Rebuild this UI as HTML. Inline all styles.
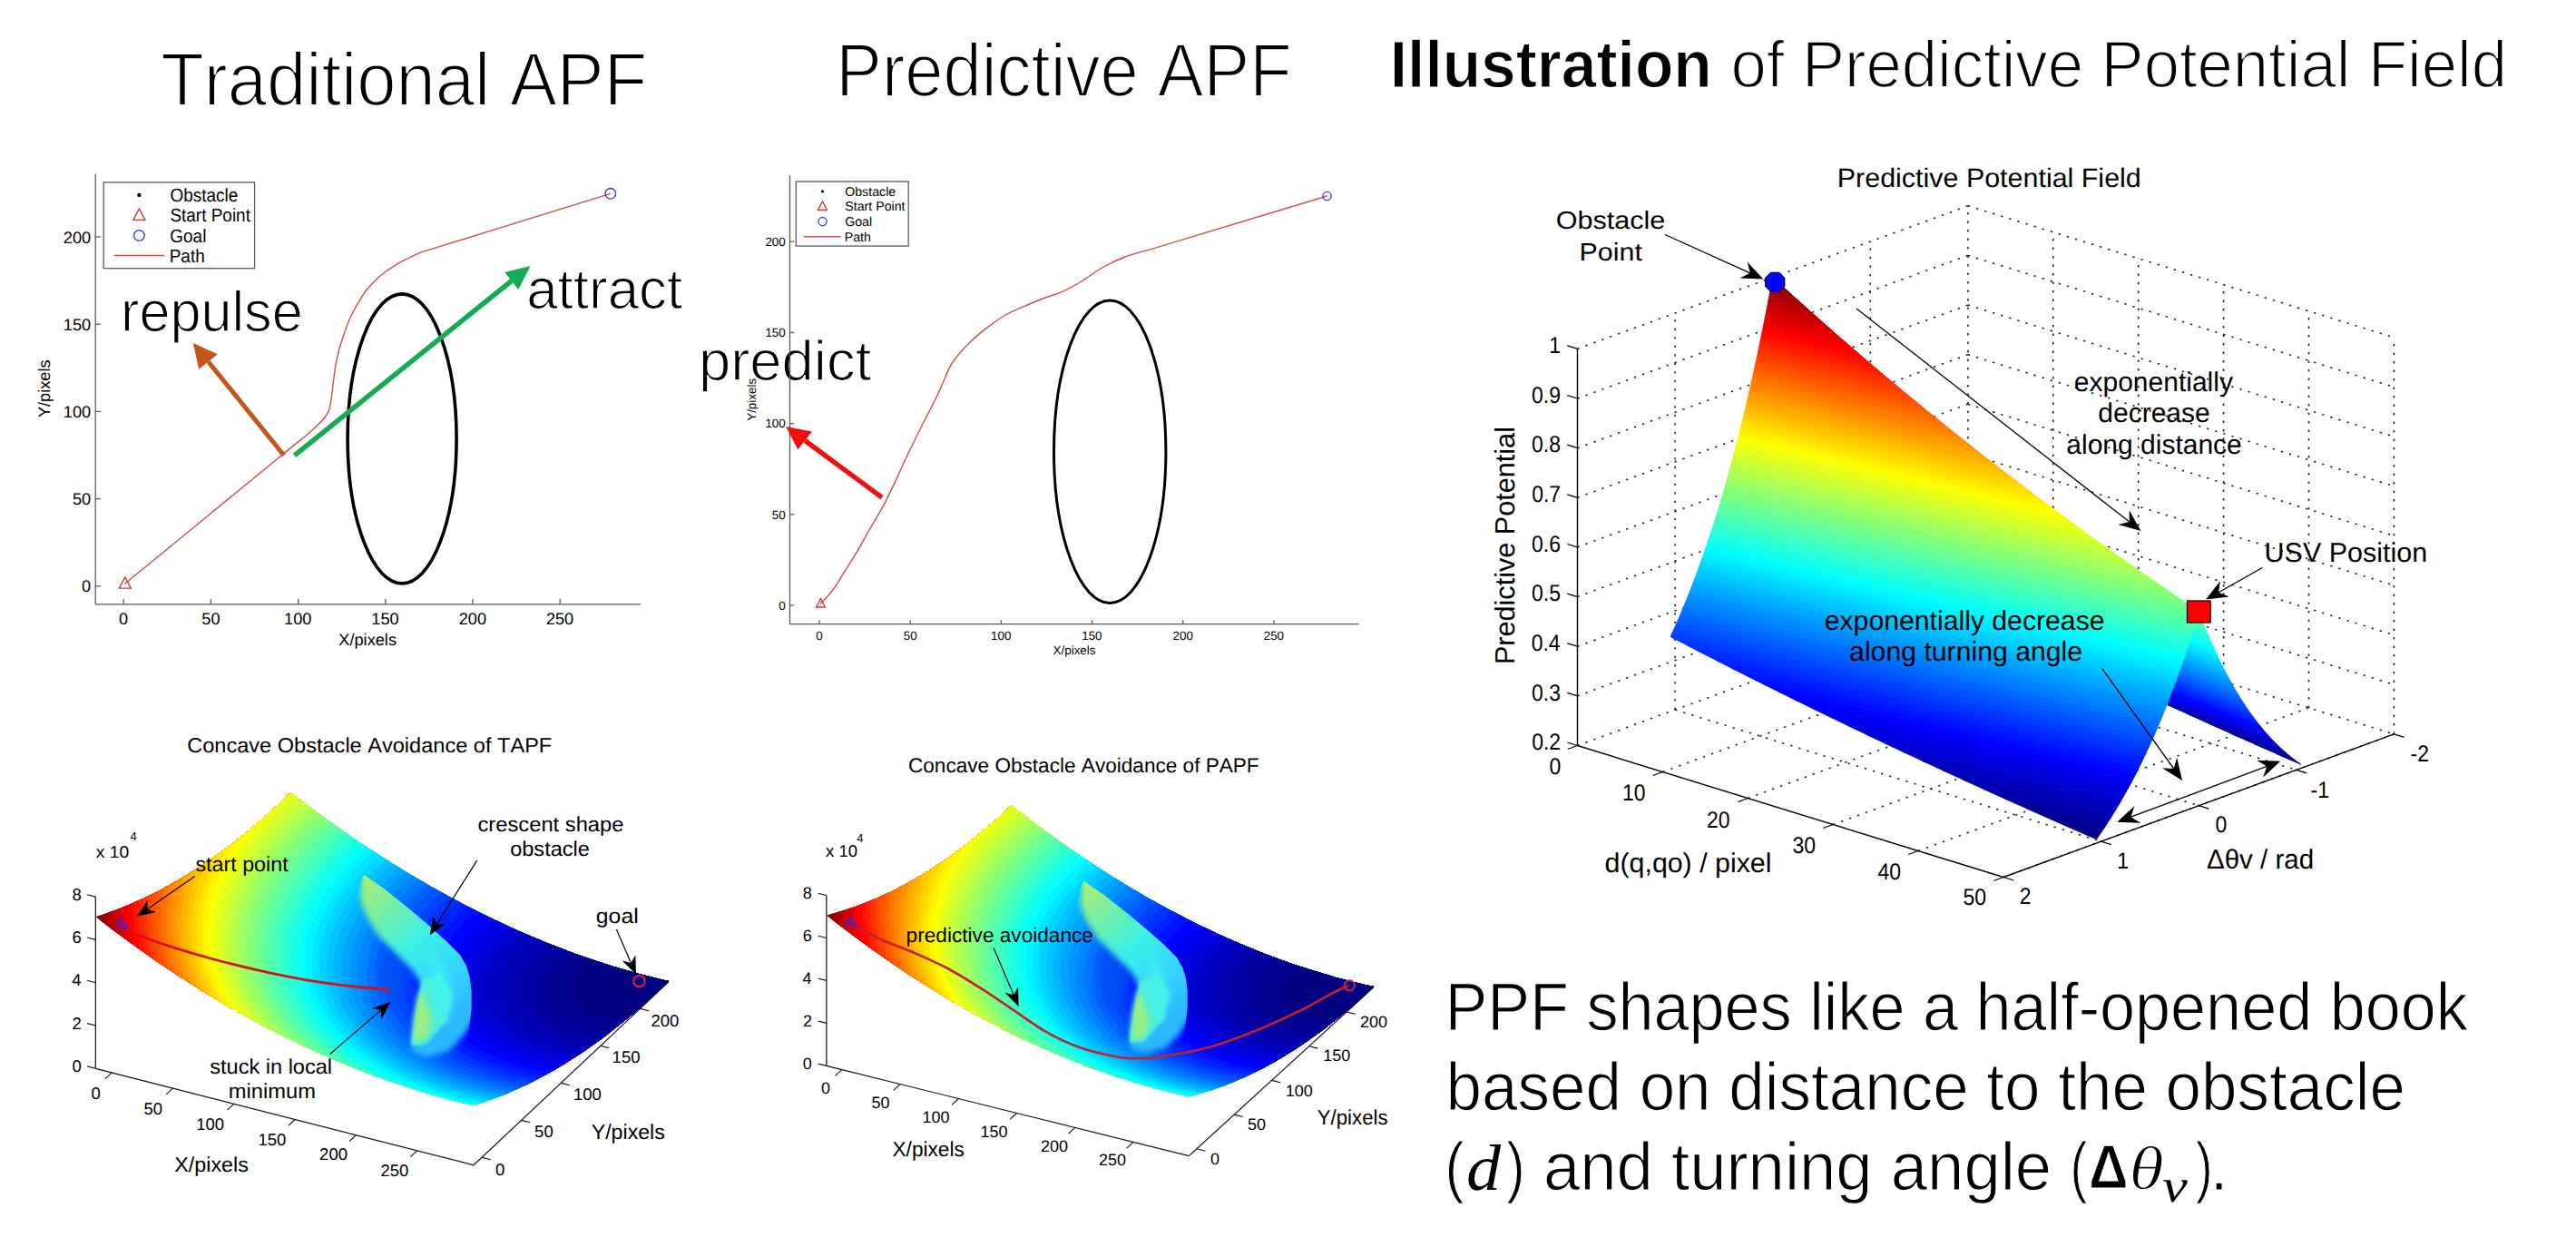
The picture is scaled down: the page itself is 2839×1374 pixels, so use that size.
<!DOCTYPE html><html><head><meta charset="utf-8"><style>html,body{margin:0;padding:0;background:#fff;overflow:hidden}svg{display:block}text{font-family:"Liberation Sans",sans-serif;text-rendering:geometricPrecision;font-kerning:none}</style></head><body>
<svg width="2839" height="1374" viewBox="0 0 2839 1374">
<rect width="2839" height="1374" fill="#fff"/>
<text transform="translate(177.3 116.2) scale(0.9391 1)" font-size="82.8" fill="#000" stroke="#fff" stroke-width="2">Traditional APF</text>
<text transform="translate(921.3 105.5) scale(0.9173 1)" font-size="82.8" fill="#000" stroke="#fff" stroke-width="2">Predictive APF</text>
<text transform="translate(1531.8 96.2) scale(0.9513 1)" font-size="73" font-weight="bold" fill="#000" stroke="#fff" stroke-width="1.2">Illustration</text>
<text transform="translate(1907.4 96.2) scale(0.9673 1)" font-size="73" fill="#000" stroke="#fff" stroke-width="1.8">of Predictive Potential Field</text>
<line x1="105.2" y1="191.5" x2="105.2" y2="665.8" stroke="#5a5a5a" stroke-width="1.3"/>
<line x1="105.2" y1="665.8" x2="706" y2="665.8" stroke="#5a5a5a" stroke-width="1.3"/>
<line x1="105.2" y1="645.8" x2="111.2" y2="645.8" stroke="#5a5a5a" stroke-width="1.3"/>
<text x="90.1" y="652.3" font-size="18.2" fill="#000">0</text>
<line x1="105.2" y1="549.6" x2="111.2" y2="549.6" stroke="#5a5a5a" stroke-width="1.3"/>
<text x="80" y="556.1" font-size="18.2" fill="#000">50</text>
<line x1="105.2" y1="453.4" x2="111.2" y2="453.4" stroke="#5a5a5a" stroke-width="1.3"/>
<text x="69.8" y="459.9" font-size="18.2" fill="#000">100</text>
<line x1="105.2" y1="357.2" x2="111.2" y2="357.2" stroke="#5a5a5a" stroke-width="1.3"/>
<text x="69.8" y="363.7" font-size="18.2" fill="#000">150</text>
<line x1="105.2" y1="261" x2="111.2" y2="261" stroke="#5a5a5a" stroke-width="1.3"/>
<text x="69.8" y="267.5" font-size="18.2" fill="#000">200</text>
<line x1="136.2" y1="665.8" x2="136.2" y2="659.8" stroke="#5a5a5a" stroke-width="1.3"/>
<text x="131.1" y="688.3" font-size="18.2" fill="#000">0</text>
<line x1="232.4" y1="665.8" x2="232.4" y2="659.8" stroke="#5a5a5a" stroke-width="1.3"/>
<text x="222.3" y="688.3" font-size="18.2" fill="#000">50</text>
<line x1="328.6" y1="665.8" x2="328.6" y2="659.8" stroke="#5a5a5a" stroke-width="1.3"/>
<text x="313.1" y="688.3" font-size="18.2" fill="#000">100</text>
<line x1="424.8" y1="665.8" x2="424.8" y2="659.8" stroke="#5a5a5a" stroke-width="1.3"/>
<text x="409.3" y="688.3" font-size="18.2" fill="#000">150</text>
<line x1="521" y1="665.8" x2="521" y2="659.8" stroke="#5a5a5a" stroke-width="1.3"/>
<text x="505.7" y="688.3" font-size="18.2" fill="#000">200</text>
<line x1="617.2" y1="665.8" x2="617.2" y2="659.8" stroke="#5a5a5a" stroke-width="1.3"/>
<text x="601.9" y="688.3" font-size="18.2" fill="#000">250</text>
<text x="373.3" y="711" font-size="18.2" fill="#000">X/pixels</text>
<text transform="translate(54.5 460.1) rotate(-90) scale(1.0000 1)" font-size="18.2">Y/pixels</text>
<ellipse cx="443.1" cy="483.4" rx="60" ry="159.5" fill="none" stroke="#000" stroke-width="3.6"/>
<path d="M137.8,643 C167.1,619 281.6,525.3 313.6,499.1 C345.6,472.9 325.1,490 330,486 C334.9,482 339.3,478.2 343,475 C346.7,471.8 349.4,469.2 352,466.5 C354.6,463.8 356.9,461.4 358.6,459 C360.4,456.6 361.4,455.2 362.5,452 C363.6,448.8 364.2,445.3 365,440 C365.8,434.7 366.7,426.3 367.5,420 C368.3,413.7 368.9,408 370,402 C371.1,396 372.5,389.6 374,384 C375.5,378.4 377.1,373.9 379.1,368.2 C381.1,362.5 383.3,355.9 386,350 C388.7,344.1 392.4,337.8 395.4,332.7 C398.4,327.6 400.8,323.6 404,319.5 C407.2,315.4 411.2,311.4 414.5,308.2 C417.8,304.9 420.4,302.7 424,300 C427.6,297.3 432.1,294.4 436.4,291.8 C440.7,289.2 445.5,286.8 450,284.5 C454.5,282.2 461.3,279.2 463.6,278.2" fill="none" stroke="#d84a4a" stroke-width="1.4" stroke-linecap="round" stroke-linejoin="round"/>
<line x1="463.6" y1="278.2" x2="672.8" y2="213.3" stroke="#d84a4a" stroke-width="1.4"/>
<path d="M131.3,648.2 L144.3,648.2 L137.8,635.9 Z" fill="none" stroke="#d83030" stroke-width="1.3"/>
<circle cx="672.8" cy="213.3" r="5.8" fill="none" stroke="#3a3ad0" stroke-width="1.3"/>
<rect x="114.2" y="200.9" width="166.4" height="94.8" fill="#fff" stroke="#5a5a5a" stroke-width="1.3"/>
<circle cx="153.4" cy="214.9" r="2.2" fill="#000"/>
<path d="M146.9,242.4 L159.9,242.4 L153.4,230 Z" fill="none" stroke="#d83030" stroke-width="1.3"/>
<circle cx="153.4" cy="259.4" r="5.8" fill="none" stroke="#3a3ad0" stroke-width="1.3"/>
<line x1="125.7" y1="281.5" x2="181.5" y2="281.5" stroke="#d84a4a" stroke-width="1.4"/>
<text transform="translate(187.4 222) scale(0.9250 1)" font-size="20.5" fill="#000">Obstacle</text>
<text transform="translate(187.4 244.3) scale(0.9250 1)" font-size="20.5" fill="#000">Start Point</text>
<text transform="translate(187.3 266.5) scale(0.9250 1)" font-size="20.5" fill="#000">Goal</text>
<text transform="translate(186.7 288.6) scale(0.9250 1)" font-size="20.5" fill="#000">Path</text>
<line x1="312.9" y1="501.8" x2="229.5" y2="398.5" stroke="#c4561c" stroke-width="5"/>
<path d="M212.8,378 239.8,390.2 219.2,406.8Z" fill="#c4561c" stroke="none" stroke-width="1"/>
<line x1="324.5" y1="501.8" x2="563.8" y2="309.5" stroke="#12ad50" stroke-width="5.5"/>
<path d="M584.6,293 556.3,300 571.3,319Z" fill="#12ad50" stroke="none" stroke-width="1"/>
<text transform="translate(133.1 364.8) scale(0.9707 1)" font-size="63" fill="#000" stroke="#fff" stroke-width="1.3">repulse</text>
<text transform="translate(580.2 340.2) scale(0.9903 1)" font-size="62.5" fill="#000" stroke="#fff" stroke-width="1.3">attract</text>
<text transform="translate(770 418.9) scale(1.0174 1)" font-size="62.3" fill="#000" stroke="#fff" stroke-width="1.3">predict</text>
<line x1="870.5" y1="193.3" x2="870.5" y2="687.7" stroke="#5a5a5a" stroke-width="1.3"/>
<line x1="870.5" y1="687.7" x2="1497.5" y2="687.7" stroke="#5a5a5a" stroke-width="1.3"/>
<line x1="870.5" y1="667" x2="875" y2="667" stroke="#5a5a5a" stroke-width="1.3"/>
<text x="858.3" y="671.8" font-size="13.4" fill="#000">0</text>
<line x1="870.5" y1="566.8" x2="875" y2="566.8" stroke="#5a5a5a" stroke-width="1.3"/>
<text x="850.8" y="571.6" font-size="13.4" fill="#000">50</text>
<line x1="870.5" y1="466.6" x2="875" y2="466.6" stroke="#5a5a5a" stroke-width="1.3"/>
<text x="843.4" y="471.4" font-size="13.4" fill="#000">100</text>
<line x1="870.5" y1="366.4" x2="875" y2="366.4" stroke="#5a5a5a" stroke-width="1.3"/>
<text x="843.4" y="371.2" font-size="13.4" fill="#000">150</text>
<line x1="870.5" y1="266.2" x2="875" y2="266.2" stroke="#5a5a5a" stroke-width="1.3"/>
<text x="843.4" y="271" font-size="13.4" fill="#000">200</text>
<line x1="903" y1="687.7" x2="903" y2="683.2" stroke="#5a5a5a" stroke-width="1.3"/>
<text x="899.3" y="704.6" font-size="13.4" fill="#000">0</text>
<line x1="1003.2" y1="687.7" x2="1003.2" y2="683.2" stroke="#5a5a5a" stroke-width="1.3"/>
<text x="995.7" y="704.6" font-size="13.4" fill="#000">50</text>
<line x1="1103.4" y1="687.7" x2="1103.4" y2="683.2" stroke="#5a5a5a" stroke-width="1.3"/>
<text x="1092" y="704.6" font-size="13.4" fill="#000">100</text>
<line x1="1203.6" y1="687.7" x2="1203.6" y2="683.2" stroke="#5a5a5a" stroke-width="1.3"/>
<text x="1192.2" y="704.6" font-size="13.4" fill="#000">150</text>
<line x1="1303.8" y1="687.7" x2="1303.8" y2="683.2" stroke="#5a5a5a" stroke-width="1.3"/>
<text x="1292.5" y="704.6" font-size="13.4" fill="#000">200</text>
<line x1="1404" y1="687.7" x2="1404" y2="683.2" stroke="#5a5a5a" stroke-width="1.3"/>
<text x="1392.7" y="704.6" font-size="13.4" fill="#000">250</text>
<text x="1160.6" y="721.4" font-size="13.4" fill="#000">X/pixels</text>
<text transform="translate(833.2 463.8) rotate(-90) scale(1.0000 1)" font-size="13.4">Y/pixels</text>
<ellipse cx="1223.2" cy="497.7" rx="61.7" ry="166.7" fill="none" stroke="#000" stroke-width="3"/>
<path d="M904.5,665 C906.8,662.5 913.8,655.7 918,650 C922.2,644.3 925.6,637.9 930,631 C934.4,624.1 939.6,616.2 944.3,608.4 C949,600.6 953.2,592.4 958,584 C962.8,575.6 968.4,566.9 973.2,557.9 C978,548.9 982.6,539.2 987,530 C991.4,520.8 994.9,512.3 999.6,502.5 C1004.3,492.7 1009.8,481.4 1015,471 C1020.2,460.6 1026.7,448.5 1030.9,440 C1035.1,431.5 1036.9,426.7 1040,420 C1043.1,413.3 1044.7,407 1049.4,400 C1054.1,393 1061.3,384.7 1068,378 C1074.7,371.3 1082.8,364.9 1089.8,359.6 C1096.8,354.3 1102.5,350.1 1110,346 C1117.5,341.9 1127.7,338 1134.7,335 C1141.7,332 1146,330.3 1152,328 C1158,325.7 1163.9,324.4 1170.6,321.4 C1177.3,318.4 1184.5,314.5 1192,310 C1199.5,305.5 1207.5,299 1215.5,294.5 C1223.5,290 1231,286.4 1240,283 C1249,279.6 1264.5,275.8 1269.4,274.3" fill="none" stroke="#d84a4a" stroke-width="1.4" stroke-linecap="round" stroke-linejoin="round"/>
<line x1="1269.4" y1="274.3" x2="1462.5" y2="216" stroke="#d84a4a" stroke-width="1.4"/>
<path d="M899.5,669 L909.5,669 L904.5,659.5 Z" fill="none" stroke="#d83030" stroke-width="1.3"/>
<circle cx="1462.5" cy="216" r="4.6" fill="none" stroke="#3a3ad0" stroke-width="1.3"/>
<rect x="877.3" y="200" width="123.9" height="71.1" fill="#fff" stroke="#5a5a5a" stroke-width="1.3"/>
<circle cx="906.5" cy="210.8" r="1.6" fill="#000"/>
<path d="M901.5,231.5 L911.5,231.5 L906.5,222 Z" fill="none" stroke="#d83030" stroke-width="1.3"/>
<circle cx="906.5" cy="244.1" r="4.6" fill="none" stroke="#3a3ad0" stroke-width="1.3"/>
<line x1="885.7" y1="260.8" x2="926.8" y2="260.8" stroke="#d84a4a" stroke-width="1.4"/>
<text x="931.2" y="215.7" font-size="14.2" fill="#000">Obstacle</text>
<text x="931.3" y="232.4" font-size="14.2" fill="#000">Start Point</text>
<text x="931.2" y="249" font-size="14.2" fill="#000">Goal</text>
<text x="930.7" y="265.7" font-size="14.2" fill="#000">Path</text>
<line x1="972" y1="548.2" x2="887.2" y2="485.5" stroke="#ee1010" stroke-width="5.3"/>
<path d="M866.1,470 895,475.6 879.4,495.3Z" fill="#ee1010" stroke="none" stroke-width="1"/>
<line x1="1738.5" y1="821.5" x2="2168.9" y2="663.9" stroke="#222" stroke-width="1.6" stroke-dasharray="2.3 7.2"/>
<line x1="1738.5" y1="766.9" x2="2168.9" y2="609.3" stroke="#222" stroke-width="1.6" stroke-dasharray="2.3 7.2"/>
<line x1="1738.5" y1="712.2" x2="2168.9" y2="554.6" stroke="#222" stroke-width="1.6" stroke-dasharray="2.3 7.2"/>
<line x1="1738.5" y1="657.6" x2="2168.9" y2="500" stroke="#222" stroke-width="1.6" stroke-dasharray="2.3 7.2"/>
<line x1="1738.5" y1="602.9" x2="2168.9" y2="445.3" stroke="#222" stroke-width="1.6" stroke-dasharray="2.3 7.2"/>
<line x1="1738.5" y1="548.3" x2="2168.9" y2="390.7" stroke="#222" stroke-width="1.6" stroke-dasharray="2.3 7.2"/>
<line x1="1738.5" y1="493.7" x2="2168.9" y2="336.1" stroke="#222" stroke-width="1.6" stroke-dasharray="2.3 7.2"/>
<line x1="1738.5" y1="439" x2="2168.9" y2="281.4" stroke="#222" stroke-width="1.6" stroke-dasharray="2.3 7.2"/>
<line x1="1738.5" y1="384.4" x2="2168.9" y2="226.8" stroke="#222" stroke-width="1.6" stroke-dasharray="2.3 7.2"/>
<line x1="1846.1" y1="782.1" x2="1846.1" y2="345" stroke="#222" stroke-width="1.6" stroke-dasharray="2.3 7.2"/>
<line x1="1953.7" y1="742.7" x2="1953.7" y2="305.6" stroke="#222" stroke-width="1.6" stroke-dasharray="2.3 7.2"/>
<line x1="2061.3" y1="703.3" x2="2061.3" y2="266.2" stroke="#222" stroke-width="1.6" stroke-dasharray="2.3 7.2"/>
<line x1="2168.9" y1="663.9" x2="2168.9" y2="226.8" stroke="#222" stroke-width="1.6" stroke-dasharray="2.3 7.2"/>
<line x1="2168.9" y1="663.9" x2="2638.4" y2="808.9" stroke="#222" stroke-width="1.6" stroke-dasharray="2.3 7.2"/>
<line x1="2168.9" y1="609.3" x2="2638.4" y2="754.3" stroke="#222" stroke-width="1.6" stroke-dasharray="2.3 7.2"/>
<line x1="2168.9" y1="554.6" x2="2638.4" y2="699.6" stroke="#222" stroke-width="1.6" stroke-dasharray="2.3 7.2"/>
<line x1="2168.9" y1="500" x2="2638.4" y2="645" stroke="#222" stroke-width="1.6" stroke-dasharray="2.3 7.2"/>
<line x1="2168.9" y1="445.3" x2="2638.4" y2="590.3" stroke="#222" stroke-width="1.6" stroke-dasharray="2.3 7.2"/>
<line x1="2168.9" y1="390.7" x2="2638.4" y2="535.7" stroke="#222" stroke-width="1.6" stroke-dasharray="2.3 7.2"/>
<line x1="2168.9" y1="336.1" x2="2638.4" y2="481.1" stroke="#222" stroke-width="1.6" stroke-dasharray="2.3 7.2"/>
<line x1="2168.9" y1="281.4" x2="2638.4" y2="426.4" stroke="#222" stroke-width="1.6" stroke-dasharray="2.3 7.2"/>
<line x1="2168.9" y1="226.8" x2="2638.4" y2="371.8" stroke="#222" stroke-width="1.6" stroke-dasharray="2.3 7.2"/>
<line x1="2262.8" y1="692.9" x2="2262.8" y2="255.8" stroke="#222" stroke-width="1.6" stroke-dasharray="2.3 7.2"/>
<line x1="2356.7" y1="721.9" x2="2356.7" y2="284.8" stroke="#222" stroke-width="1.6" stroke-dasharray="2.3 7.2"/>
<line x1="2450.6" y1="750.9" x2="2450.6" y2="313.8" stroke="#222" stroke-width="1.6" stroke-dasharray="2.3 7.2"/>
<line x1="2544.5" y1="779.9" x2="2544.5" y2="342.8" stroke="#222" stroke-width="1.6" stroke-dasharray="2.3 7.2"/>
<line x1="2638.4" y1="808.9" x2="2638.4" y2="371.8" stroke="#222" stroke-width="1.6" stroke-dasharray="2.3 7.2"/>
<line x1="1832.4" y1="850.5" x2="2262.8" y2="692.9" stroke="#222" stroke-width="1.6" stroke-dasharray="2.3 7.2"/>
<line x1="1926.3" y1="879.5" x2="2356.7" y2="721.9" stroke="#222" stroke-width="1.6" stroke-dasharray="2.3 7.2"/>
<line x1="2020.2" y1="908.5" x2="2450.6" y2="750.9" stroke="#222" stroke-width="1.6" stroke-dasharray="2.3 7.2"/>
<line x1="2114.1" y1="937.5" x2="2544.5" y2="779.9" stroke="#222" stroke-width="1.6" stroke-dasharray="2.3 7.2"/>
<line x1="2208" y1="966.5" x2="2638.4" y2="808.9" stroke="#222" stroke-width="1.6" stroke-dasharray="2.3 7.2"/>
<line x1="1846.1" y1="782.1" x2="2315.6" y2="927.1" stroke="#222" stroke-width="1.6" stroke-dasharray="2.3 7.2"/>
<line x1="1953.7" y1="742.7" x2="2423.2" y2="887.7" stroke="#222" stroke-width="1.6" stroke-dasharray="2.3 7.2"/>
<line x1="2061.3" y1="703.3" x2="2530.8" y2="848.3" stroke="#222" stroke-width="1.6" stroke-dasharray="2.3 7.2"/>
<path d="M2509.6,830.8 2512.4,832 2524.1,837.2 2535.9,842.3 2533.1,840.3 2532.7,840.1Z" fill="#000083" stroke="#000083" stroke-width="0.8" stroke-linejoin="round"/>
<path d="M2484.1,819.5 2488.9,821.7 2500.7,826.9 2509.6,830.8 2532.7,840.1 2530.2,838.3 2529.6,837.8Z" fill="#00008b" stroke="#00008b" stroke-width="0.8" stroke-linejoin="round"/>
<path d="M2459.2,808.5 2465.5,811.3 2477.2,816.5 2484.1,819.5 2529.6,837.8 2527.4,836.1 2526.7,835.5Z" fill="#000093" stroke="#000093" stroke-width="0.8" stroke-linejoin="round"/>
<path d="M2435.1,797.6 2442,800.7 2453.7,806 2459.2,808.5 2526.7,835.5 2524.6,833.9 2523.8,833.2Z" fill="#00009b" stroke="#00009b" stroke-width="0.8" stroke-linejoin="round"/>
<path d="M2411.6,787 2418.5,790.1 2430.2,795.4 2435.1,797.6 2523.8,833.2 2521.8,831.6 2520.9,830.9Z" fill="#0000a3" stroke="#0000a3" stroke-width="0.8" stroke-linejoin="round"/>
<path d="M2388.7,776.5 2395,779.4 2406.8,784.8 2411.6,787 2520.9,830.9 2519,829.2 2518.2,828.5Z" fill="#0000ab" stroke="#0000ab" stroke-width="0.8" stroke-linejoin="round"/>
<path d="M2366.3,766.3 2371.6,768.7 2383.3,774.1 2388.7,776.5 2518.2,828.5 2516.2,826.7 2515.5,826.1Z" fill="#0000b3" stroke="#0000b3" stroke-width="0.8" stroke-linejoin="round"/>
<path d="M2344.5,756.1 2348.1,757.8 2359.8,763.2 2366.3,766.3 2515.5,826.1 2513.3,824.1 2512.9,823.7Z" fill="#0000bb" stroke="#0000bb" stroke-width="0.8" stroke-linejoin="round"/>
<path d="M2323.3,746.2 2324.6,746.8 2336.3,752.3 2344.5,756.1 2512.9,823.7 2510.5,821.4 2510.3,821.2Z" fill="#0000c3" stroke="#0000c3" stroke-width="0.8" stroke-linejoin="round"/>
<path d="M2302.5,736.4 2312.9,741.3 2323.3,746.2 2510.3,821.2 2507.8,818.8Z" fill="#0000cb" stroke="#0000cb" stroke-width="0.8" stroke-linejoin="round"/>
<path d="M2282.2,726.7 2289.4,730.2 2301.1,735.7 2302.5,736.4 2507.8,818.8 2507.7,818.7 2505.4,816.3Z" fill="#0000d3" stroke="#0000d3" stroke-width="0.8" stroke-linejoin="round"/>
<path d="M2262.3,717.2 2265.9,718.9 2277.7,724.6 2282.2,726.7 2505.4,816.3 2504.9,815.8 2503,813.8Z" fill="#0000db" stroke="#0000db" stroke-width="0.8" stroke-linejoin="round"/>
<path d="M2242.9,707.8 2254.2,713.3 2262.3,717.2 2503,813.8 2502.1,812.8 2500.6,811.2Z" fill="#0000e3" stroke="#0000e3" stroke-width="0.8" stroke-linejoin="round"/>
<path d="M2223.9,698.6 2230.7,701.9 2242.4,707.6 2242.9,707.8 2500.6,811.2 2499.3,809.7 2498.3,808.7Z" fill="#0000eb" stroke="#0000eb" stroke-width="0.8" stroke-linejoin="round"/>
<path d="M2205.2,689.4 2207.2,690.4 2219,696.2 2223.9,698.6 2498.3,808.7 2496.4,806.5 2496.1,806.1Z" fill="#0000f3" stroke="#0000f3" stroke-width="0.8" stroke-linejoin="round"/>
<path d="M2187,680.4 2195.5,684.6 2205.2,689.4 2496.1,806.1 2493.9,803.5Z" fill="#0000fb" stroke="#0000fb" stroke-width="0.8" stroke-linejoin="round"/>
<path d="M2169.1,671.5 2172,673 2183.8,678.8 2187,680.4 2493.9,803.5 2493.6,803.2 2491.8,800.9Z" fill="#0004ff" stroke="#0004ff" stroke-width="0.8" stroke-linejoin="round"/>
<path d="M2151.6,662.7 2160.3,667.1 2169.1,671.5 2491.8,800.9 2490.8,799.8 2489.6,798.3Z" fill="#000cff" stroke="#000cff" stroke-width="0.8" stroke-linejoin="round"/>
<path d="M2134.4,654 2136.8,655.2 2148.5,661.2 2151.6,662.7 2489.6,798.3 2488,796.2 2487.6,795.7Z" fill="#0014ff" stroke="#0014ff" stroke-width="0.8" stroke-linejoin="round"/>
<path d="M2117.6,645.4 2125.1,649.3 2134.4,654 2487.6,795.7 2485.5,793.1Z" fill="#001cff" stroke="#001cff" stroke-width="0.8" stroke-linejoin="round"/>
<path d="M2101,637 2101.6,637.3 2113.3,643.3 2117.6,645.4 2485.5,793.1 2485.2,792.6 2483.6,790.4Z" fill="#0024ff" stroke="#0024ff" stroke-width="0.8" stroke-linejoin="round"/>
<path d="M2084.8,628.6 2089.9,631.2 2101,637 2483.6,790.4 2482.4,788.8 2481.6,787.8Z" fill="#002cff" stroke="#002cff" stroke-width="0.8" stroke-linejoin="round"/>
<path d="M2068.8,620.2 2078.1,625.1 2084.8,628.6 2481.6,787.8 2479.7,785.1Z" fill="#0034ff" stroke="#0034ff" stroke-width="0.8" stroke-linejoin="round"/>
<path d="M2066.4,619 2068.8,620.2 2479.7,785.1 2479.5,784.9 2477.8,782.4 2064.8,616.7Z" fill="#003cff" stroke="#003cff" stroke-width="0.8" stroke-linejoin="round"/>
<path d="M2477.8,782.4 2476.7,780.8 2475.9,779.7 2062.9,614 2063.6,614.9 2064.8,616.7Z" fill="#0044ff" stroke="#0044ff" stroke-width="0.8" stroke-linejoin="round"/>
<path d="M2475.9,779.7 2474.1,777 2061.1,611.3 2062.9,614Z" fill="#004cff" stroke="#004cff" stroke-width="0.8" stroke-linejoin="round"/>
<path d="M2474.1,777 2473.9,776.6 2472.3,774.2 2059.3,608.6 2060.7,610.7 2061.1,611.3Z" fill="#0054ff" stroke="#0054ff" stroke-width="0.8" stroke-linejoin="round"/>
<path d="M2472.3,774.2 2471.1,772.3 2470.6,771.5 2057.5,605.8 2057.9,606.4 2059.3,608.6Z" fill="#005cff" stroke="#005cff" stroke-width="0.8" stroke-linejoin="round"/>
<path d="M2470.6,771.5 2468.8,768.8 2055.8,603.1 2057.5,605.8Z" fill="#0064ff" stroke="#0064ff" stroke-width="0.8" stroke-linejoin="round"/>
<path d="M2468.8,768.8 2468.3,767.9 2467.1,766 2054.1,600.3 2055.1,601.9 2055.8,603.1Z" fill="#006cff" stroke="#006cff" stroke-width="0.8" stroke-linejoin="round"/>
<path d="M2467.1,766 2465.5,763.3 2465.4,763.2 2052.4,597.5 2054.1,600.3Z" fill="#0074ff" stroke="#0074ff" stroke-width="0.8" stroke-linejoin="round"/>
<path d="M2465.4,763.2 2463.8,760.5 2050.8,594.8 2052.3,597.3 2052.4,597.5Z" fill="#007cff" stroke="#007cff" stroke-width="0.8" stroke-linejoin="round"/>
<path d="M2463.8,760.5 2462.6,758.5 2462.2,757.7 2049.1,592 2049.5,592.6 2050.8,594.8Z" fill="#0083ff" stroke="#0083ff" stroke-width="0.8" stroke-linejoin="round"/>
<path d="M2462.2,757.7 2460.5,754.9 2047.5,589.2 2049.1,592Z" fill="#008bff" stroke="#008bff" stroke-width="0.8" stroke-linejoin="round"/>
<path d="M2460.5,754.9 2459.8,753.6 2459,752.1 2046,586.4 2046.7,587.6 2047.5,589.2Z" fill="#0093ff" stroke="#0093ff" stroke-width="0.8" stroke-linejoin="round"/>
<path d="M2459,752.1 2457.4,749.3 2044.4,583.6 2046,586.4Z" fill="#009bff" stroke="#009bff" stroke-width="0.8" stroke-linejoin="round"/>
<path d="M2457.4,749.3 2457,748.5 2455.9,746.4 2042.9,580.7 2043.8,582.6 2044.4,583.6Z" fill="#00a3ff" stroke="#00a3ff" stroke-width="0.8" stroke-linejoin="round"/>
<path d="M2455.9,746.4 2454.4,743.6 2041.3,577.9 2042.9,580.7Z" fill="#00abff" stroke="#00abff" stroke-width="0.8" stroke-linejoin="round"/>
<path d="M2454.4,743.6 2454.2,743.3 2452.9,740.8 2039.9,575.1 2041,577.3 2041.3,577.9Z" fill="#00b3ff" stroke="#00b3ff" stroke-width="0.8" stroke-linejoin="round"/>
<path d="M2452.9,740.8 2451.4,737.9 2038.4,572.2 2039.9,575.1Z" fill="#00bbff" stroke="#00bbff" stroke-width="0.8" stroke-linejoin="round"/>
<path d="M2451.4,737.9 2451.4,737.9 2449.9,735.1 2036.9,569.4 2038.2,571.9 2038.4,572.2Z" fill="#00c3ff" stroke="#00c3ff" stroke-width="0.8" stroke-linejoin="round"/>
<path d="M2449.9,735.1 2448.6,732.3 2448.5,732.2 2035.5,566.5 2036.9,569.4Z" fill="#00cbff" stroke="#00cbff" stroke-width="0.8" stroke-linejoin="round"/>
<path d="M2448.5,732.2 2447.1,729.4 2034.1,563.7 2035.4,566.3 2035.5,566.5Z" fill="#00d3ff" stroke="#00d3ff" stroke-width="0.8" stroke-linejoin="round"/>
<path d="M2447.1,729.4 2445.7,726.6 2445.7,726.5 2032.7,560.8 2034.1,563.7Z" fill="#00dbff" stroke="#00dbff" stroke-width="0.8" stroke-linejoin="round"/>
<path d="M2445.7,726.5 2444.3,723.6 2031.3,557.9 2032.6,560.6 2032.7,560.8Z" fill="#00e3ff" stroke="#00e3ff" stroke-width="0.8" stroke-linejoin="round"/>
<path d="M2444.3,723.6 2442.9,720.7 2029.9,555 2031.3,557.9Z" fill="#00ebff" stroke="#00ebff" stroke-width="0.8" stroke-linejoin="round"/>
<path d="M2442.9,720.7 2442.9,720.7 2441.6,717.8 2028.6,552.1 2029.8,554.7 2029.9,555Z" fill="#00f3ff" stroke="#00f3ff" stroke-width="0.8" stroke-linejoin="round"/>
<path d="M2441.6,717.8 2440.3,714.9 2027.3,549.3 2028.6,552.1Z" fill="#00fbff" stroke="#00fbff" stroke-width="0.8" stroke-linejoin="round"/>
<path d="M2440.3,714.9 2440.1,714.6 2439,712 2026,546.3 2026.9,548.5 2027.3,549.3Z" fill="#04fffb" stroke="#04fffb" stroke-width="0.8" stroke-linejoin="round"/>
<path d="M2439,712 2437.7,709.1 2024.7,543.4 2026,546.3Z" fill="#0cfff3" stroke="#0cfff3" stroke-width="0.8" stroke-linejoin="round"/>
<path d="M2437.7,709.1 2437.3,708.3 2436.4,706.2 2023.4,540.5 2024.1,542.2 2024.7,543.4Z" fill="#14ffeb" stroke="#14ffeb" stroke-width="0.8" stroke-linejoin="round"/>
<path d="M2436.4,706.2 2435.1,703.3 2022.1,537.6 2023.4,540.5Z" fill="#1cffe3" stroke="#1cffe3" stroke-width="0.8" stroke-linejoin="round"/>
<path d="M2435.1,703.3 2434.5,701.8 2433.9,700.4 2020.9,534.7 2021.3,535.7 2022.1,537.6Z" fill="#24ffdb" stroke="#24ffdb" stroke-width="0.8" stroke-linejoin="round"/>
<path d="M2433.9,700.4 2432.6,697.4 2019.6,531.8 2020.9,534.7Z" fill="#2cffd3" stroke="#2cffd3" stroke-width="0.8" stroke-linejoin="round"/>
<path d="M2432.6,697.4 2431.7,695.1 2431.4,694.5 2018.4,528.8 2018.5,529 2019.6,531.8Z" fill="#34ffcb" stroke="#34ffcb" stroke-width="0.8" stroke-linejoin="round"/>
<path d="M2431.4,694.5 2430.2,691.6 2017.2,525.9 2018.4,528.8Z" fill="#3cffc3" stroke="#3cffc3" stroke-width="0.8" stroke-linejoin="round"/>
<path d="M2430.2,691.6 2429,688.6 2016,522.9 2017.2,525.9Z" fill="#44ffbb" stroke="#44ffbb" stroke-width="0.8" stroke-linejoin="round"/>
<path d="M2429,688.6 2428.8,688.2 2427.8,685.7 2014.8,520 2015.7,522.1 2016,522.9Z" fill="#4cffb3" stroke="#4cffb3" stroke-width="0.8" stroke-linejoin="round"/>
<path d="M2427.8,685.7 2426.7,682.7 2013.6,517 2014.8,520Z" fill="#54ffab" stroke="#54ffab" stroke-width="0.8" stroke-linejoin="round"/>
<path d="M2426.7,682.7 2426,681.1 2425.5,679.8 2012.5,514.1 2012.9,515 2013.6,517Z" fill="#5cffa3" stroke="#5cffa3" stroke-width="0.8" stroke-linejoin="round"/>
<path d="M2425.5,679.8 2424.4,676.8 2011.3,511.1 2012.5,514.1Z" fill="#64ff9b" stroke="#64ff9b" stroke-width="0.8" stroke-linejoin="round"/>
<path d="M2424.4,676.8 2423.2,673.8 2010.2,508.1 2011.3,511.1Z" fill="#6cff93" stroke="#6cff93" stroke-width="0.8" stroke-linejoin="round"/>
<path d="M2423.2,673.8 2423.2,673.8 2414.1,667.6 2009.1,505.2 2010,507.7 2010.2,508.1Z" fill="#74ff8b" stroke="#74ff8b" stroke-width="0.8" stroke-linejoin="round"/>
<path d="M2414.1,667.6 2411.5,665.9 2404.9,661.4 2008,502.2 2009.1,505.2Z" fill="#7cff83" stroke="#7cff83" stroke-width="0.8" stroke-linejoin="round"/>
<path d="M2404.9,661.4 2399.7,657.9 2395.8,655.2 2006.9,499.2 2007.2,500.1 2008,502.2Z" fill="#83ff7c" stroke="#83ff7c" stroke-width="0.8" stroke-linejoin="round"/>
<path d="M2395.8,655.2 2388,649.9 2386.7,649 2005.8,496.2 2006.9,499.2Z" fill="#8bff74" stroke="#8bff74" stroke-width="0.8" stroke-linejoin="round"/>
<path d="M2386.7,649 2377.8,642.9 2004.7,493.2 2005.8,496.2Z" fill="#93ff6c" stroke="#93ff6c" stroke-width="0.8" stroke-linejoin="round"/>
<path d="M2377.8,642.9 2376.2,641.8 2368.9,636.8 2003.7,490.2 2004.4,492.3 2004.7,493.2Z" fill="#9bff64" stroke="#9bff64" stroke-width="0.8" stroke-linejoin="round"/>
<path d="M2368.9,636.8 2364.5,633.7 2360.2,630.7 2002.6,487.2 2003.7,490.2Z" fill="#a3ff5c" stroke="#a3ff5c" stroke-width="0.8" stroke-linejoin="round"/>
<path d="M2360.2,630.7 2352.8,625.5 2351.5,624.6 2001.6,484.2 2001.6,484.3 2002.6,487.2Z" fill="#abff54" stroke="#abff54" stroke-width="0.8" stroke-linejoin="round"/>
<path d="M2351.5,624.6 2342.9,618.6 2000.5,481.2 2001.6,484.2Z" fill="#b3ff4c" stroke="#b3ff4c" stroke-width="0.8" stroke-linejoin="round"/>
<path d="M2342.9,618.6 2341,617.3 2334.4,612.6 1999.5,478.2 2000.5,481.2Z" fill="#bbff44" stroke="#bbff44" stroke-width="0.8" stroke-linejoin="round"/>
<path d="M2334.4,612.6 2329.3,609 2326,606.6 1998.5,475.2 1998.8,476.1 1999.5,478.2Z" fill="#c3ff3c" stroke="#c3ff3c" stroke-width="0.8" stroke-linejoin="round"/>
<path d="M2326,606.6 2317.6,600.6 1997.5,472.2 1998.5,475.2Z" fill="#cbff34" stroke="#cbff34" stroke-width="0.8" stroke-linejoin="round"/>
<path d="M2317.6,600.6 2317.6,600.6 2309.3,594.7 1996.5,469.2 1997.5,472.2Z" fill="#d3ff2c" stroke="#d3ff2c" stroke-width="0.8" stroke-linejoin="round"/>
<path d="M2309.3,594.7 2305.8,592.2 2301.1,588.8 1995.5,466.2 1996,467.6 1996.5,469.2Z" fill="#dbff24" stroke="#dbff24" stroke-width="0.8" stroke-linejoin="round"/>
<path d="M2301.1,588.8 2294.1,583.7 2293,582.9 1994.5,463.1 1995.5,466.2Z" fill="#e3ff1c" stroke="#e3ff1c" stroke-width="0.8" stroke-linejoin="round"/>
<path d="M2293,582.9 2284.9,577 1993.6,460.1 1994.5,463.1Z" fill="#ebff14" stroke="#ebff14" stroke-width="0.8" stroke-linejoin="round"/>
<path d="M2284.9,577 2282.3,575.1 2277,571.2 1992.6,457.1 1993.1,458.8 1993.6,460.1Z" fill="#f3ff0c" stroke="#f3ff0c" stroke-width="0.8" stroke-linejoin="round"/>
<path d="M2277,571.2 2270.6,566.5 2269,565.3 1991.6,454.1 1992.6,457.1Z" fill="#fbff04" stroke="#fbff04" stroke-width="0.8" stroke-linejoin="round"/>
<path d="M2269,565.3 2261.2,559.5 1990.7,451 1991.6,454.1Z" fill="#fffb00" stroke="#fffb00" stroke-width="0.8" stroke-linejoin="round"/>
<path d="M2261.2,559.5 2258.9,557.8 2253.4,553.7 1989.8,448 1990.3,449.8 1990.7,451Z" fill="#fff300" stroke="#fff300" stroke-width="0.8" stroke-linejoin="round"/>
<path d="M2253.4,553.7 2247.1,549 2245.7,548 1988.8,444.9 1989.8,448Z" fill="#ffeb00" stroke="#ffeb00" stroke-width="0.8" stroke-linejoin="round"/>
<path d="M2245.7,548 2238.1,542.2 1987.9,441.9 1988.8,444.9Z" fill="#ffe300" stroke="#ffe300" stroke-width="0.8" stroke-linejoin="round"/>
<path d="M2238.1,542.2 2235.4,540.2 2230.5,536.5 1987,438.8 1987.5,440.5 1987.9,441.9Z" fill="#ffdb00" stroke="#ffdb00" stroke-width="0.8" stroke-linejoin="round"/>
<path d="M2230.5,536.5 2223.7,531.3 2223,530.8 1986.1,435.8 1987,438.8Z" fill="#ffd300" stroke="#ffd300" stroke-width="0.8" stroke-linejoin="round"/>
<path d="M2223,530.8 2215.5,525.1 1985.2,432.7 1986.1,435.8Z" fill="#ffcb00" stroke="#ffcb00" stroke-width="0.8" stroke-linejoin="round"/>
<path d="M2215.5,525.1 2211.9,522.4 2208.1,519.5 1984.3,429.7 1984.7,431 1985.2,432.7Z" fill="#ffc300" stroke="#ffc300" stroke-width="0.8" stroke-linejoin="round"/>
<path d="M2208.1,519.5 2200.8,513.8 1983.4,426.6 1984.3,429.7Z" fill="#ffbb00" stroke="#ffbb00" stroke-width="0.8" stroke-linejoin="round"/>
<path d="M2200.8,513.8 2200.2,513.3 2193.5,508.2 1982.6,423.6 1983.4,426.6Z" fill="#ffb300" stroke="#ffb300" stroke-width="0.8" stroke-linejoin="round"/>
<path d="M2193.5,508.2 2188.4,504.2 2186.3,502.6 1981.7,420.5 1981.9,421.1 1982.6,423.6Z" fill="#ffab00" stroke="#ffab00" stroke-width="0.8" stroke-linejoin="round"/>
<path d="M2186.3,502.6 2179.2,497 1980.8,417.4 1981.7,420.5Z" fill="#ffa300" stroke="#ffa300" stroke-width="0.8" stroke-linejoin="round"/>
<path d="M2179.2,497 2176.7,495.1 2172.1,491.4 1980,414.3 1980.8,417.4Z" fill="#ff9b00" stroke="#ff9b00" stroke-width="0.8" stroke-linejoin="round"/>
<path d="M2172.1,491.4 2165.1,485.9 1979.1,411.3 1980,414.3Z" fill="#ff9300" stroke="#ff9300" stroke-width="0.8" stroke-linejoin="round"/>
<path d="M2165.1,485.9 2165,485.8 2158.1,480.3 1978.3,408.2 1979.1,411 1979.1,411.3Z" fill="#ff8b00" stroke="#ff8b00" stroke-width="0.8" stroke-linejoin="round"/>
<path d="M2158.1,480.3 2153.2,476.5 2151.1,474.8 1977.5,405.1 1978.3,408.2Z" fill="#ff8300" stroke="#ff8300" stroke-width="0.8" stroke-linejoin="round"/>
<path d="M2151.1,474.8 2144.3,469.3 1976.6,402 1977.5,405.1Z" fill="#ff7c00" stroke="#ff7c00" stroke-width="0.8" stroke-linejoin="round"/>
<path d="M2144.3,469.3 2141.5,467.1 2137.4,463.8 1975.8,399 1976.2,400.6 1976.6,402Z" fill="#ff7400" stroke="#ff7400" stroke-width="0.8" stroke-linejoin="round"/>
<path d="M2137.4,463.8 2130.7,458.3 1975,395.9 1975.8,399Z" fill="#ff6c00" stroke="#ff6c00" stroke-width="0.8" stroke-linejoin="round"/>
<path d="M2130.7,458.3 2129.8,457.6 2123.9,452.9 1974.2,392.8 1975,395.9Z" fill="#ff6400" stroke="#ff6400" stroke-width="0.8" stroke-linejoin="round"/>
<path d="M2123.9,452.9 2118,448 2117.3,447.4 1973.4,389.7 1973.4,389.9 1974.2,392.8Z" fill="#ff5c00" stroke="#ff5c00" stroke-width="0.8" stroke-linejoin="round"/>
<path d="M2117.3,447.4 2110.6,442 1972.6,386.6 1973.4,389.7Z" fill="#ff5400" stroke="#ff5400" stroke-width="0.8" stroke-linejoin="round"/>
<path d="M2110.6,442 2106.3,438.4 2104.1,436.6 1971.8,383.5 1972.6,386.6Z" fill="#ff4c00" stroke="#ff4c00" stroke-width="0.8" stroke-linejoin="round"/>
<path d="M2104.1,436.6 2097.5,431.2 1971,380.4 1971.8,383.5Z" fill="#ff4400" stroke="#ff4400" stroke-width="0.8" stroke-linejoin="round"/>
<path d="M2097.5,431.2 2094.5,428.7 2091.1,425.8 1970.2,377.3 1970.6,378.8 1971,380.4Z" fill="#ff3c00" stroke="#ff3c00" stroke-width="0.8" stroke-linejoin="round"/>
<path d="M2091.1,425.8 2084.6,420.4 1969.5,374.2 1970.2,377.3Z" fill="#ff3400" stroke="#ff3400" stroke-width="0.8" stroke-linejoin="round"/>
<path d="M2084.6,420.4 2082.8,418.9 2078.2,415.1 1968.7,371.1 1969.5,374.2Z" fill="#ff2c00" stroke="#ff2c00" stroke-width="0.8" stroke-linejoin="round"/>
<path d="M2078.2,415.1 2071.9,409.7 1967.9,368 1968.7,371.1Z" fill="#ff2400" stroke="#ff2400" stroke-width="0.8" stroke-linejoin="round"/>
<path d="M2071.9,409.7 2071.1,409 2065.6,404.4 1967.2,364.9 1967.8,367.5 1967.9,368Z" fill="#ff1c00" stroke="#ff1c00" stroke-width="0.8" stroke-linejoin="round"/>
<path d="M2065.6,404.4 2059.4,399.1 1966.4,361.8 1967.2,364.9Z" fill="#ff1400" stroke="#ff1400" stroke-width="0.8" stroke-linejoin="round"/>
<path d="M2059.4,399.1 2059.3,399.1 2053.1,393.8 1965.7,358.7 1966.4,361.8Z" fill="#ff0c00" stroke="#ff0c00" stroke-width="0.8" stroke-linejoin="round"/>
<path d="M2053.1,393.8 2047.6,389 2047,388.5 1964.9,355.6 1965,355.8 1965.7,358.7Z" fill="#ff0400" stroke="#ff0400" stroke-width="0.8" stroke-linejoin="round"/>
<path d="M2047,388.5 2040.9,383.2 1964.2,352.5 1964.9,355.6Z" fill="#fb0000" stroke="#fb0000" stroke-width="0.8" stroke-linejoin="round"/>
<path d="M2040.9,383.2 2035.9,378.9 2034.8,378 1963.5,349.4 1964.2,352.5Z" fill="#f30000" stroke="#f30000" stroke-width="0.8" stroke-linejoin="round"/>
<path d="M2034.8,378 2028.7,372.7 1962.7,346.2 1963.5,349.4Z" fill="#eb0000" stroke="#eb0000" stroke-width="0.8" stroke-linejoin="round"/>
<path d="M2028.7,372.7 2024.1,368.7 2022.7,367.5 1962,343.1 1962.2,343.8 1962.7,346.2Z" fill="#e30000" stroke="#e30000" stroke-width="0.8" stroke-linejoin="round"/>
<path d="M2022.7,367.5 2016.8,362.3 1961.3,340 1962,343.1Z" fill="#db0000" stroke="#db0000" stroke-width="0.8" stroke-linejoin="round"/>
<path d="M2016.8,362.3 2012.4,358.4 2010.9,357.1 1960.6,336.9 1961.3,340Z" fill="#d30000" stroke="#d30000" stroke-width="0.8" stroke-linejoin="round"/>
<path d="M2010.9,357.1 2005,351.9 1959.9,333.8 1960.6,336.9Z" fill="#cb0000" stroke="#cb0000" stroke-width="0.8" stroke-linejoin="round"/>
<path d="M2005,351.9 2000.7,348 1999.1,346.7 1959.2,330.6 1959.3,331.4 1959.9,333.8Z" fill="#c30000" stroke="#c30000" stroke-width="0.8" stroke-linejoin="round"/>
<path d="M1999.1,346.7 1993.3,341.5 1958.5,327.5 1959.2,330.6Z" fill="#bb0000" stroke="#bb0000" stroke-width="0.8" stroke-linejoin="round"/>
<path d="M1993.3,341.5 1988.9,337.6 1987.6,336.3 1957.8,324.4 1958.5,327.5Z" fill="#b30000" stroke="#b30000" stroke-width="0.8" stroke-linejoin="round"/>
<path d="M1987.6,336.3 1981.8,331.2 1957.1,321.3 1957.8,324.4Z" fill="#ab0000" stroke="#ab0000" stroke-width="0.8" stroke-linejoin="round"/>
<path d="M1981.8,331.2 1977.2,327 1976.1,326 1956.4,318.1 1956.5,318.7 1957.1,321.3Z" fill="#a30000" stroke="#a30000" stroke-width="0.8" stroke-linejoin="round"/>
<path d="M1976.1,326 1970.5,320.9 1955.7,315 1956.4,318.1Z" fill="#9b0000" stroke="#9b0000" stroke-width="0.8" stroke-linejoin="round"/>
<path d="M1970.5,320.9 1965.4,316.3 1964.8,315.8 1955,311.9 1955.7,315Z" fill="#930000" stroke="#930000" stroke-width="0.8" stroke-linejoin="round"/>
<path d="M1964.8,315.8 1959.3,310.7 1954.4,308.7 1955,311.9Z" fill="#8b0000" stroke="#8b0000" stroke-width="0.8" stroke-linejoin="round"/>
<path d="M1959.3,310.7 1953.7,305.6 1954.4,308.7Z" fill="#830000" stroke="#830000" stroke-width="0.8" stroke-linejoin="round"/>
<path d="M2313.7,920.3 2313.3,920.8 2310.5,924.8 2298.8,919.7 2287,914.5 2284.2,913.3Z" fill="#000083" stroke="#000083" stroke-width="0.8" stroke-linejoin="round"/>
<path d="M2316.8,915.8 2316.2,916.7 2313.7,920.3 2284.2,913.3 2275.3,909.4 2263.6,904.2 2258.7,902Z" fill="#00008b" stroke="#00008b" stroke-width="0.8" stroke-linejoin="round"/>
<path d="M2319.7,911.3 2319,912.5 2316.8,915.8 2258.7,902 2251.8,899 2240.1,893.8 2233.9,891Z" fill="#000093" stroke="#000093" stroke-width="0.8" stroke-linejoin="round"/>
<path d="M2322.6,906.8 2321.8,908.2 2319.7,911.3 2233.9,891 2228.4,888.5 2216.6,883.3 2209.7,880.2Z" fill="#00009b" stroke="#00009b" stroke-width="0.8" stroke-linejoin="round"/>
<path d="M2325.5,902.4 2324.6,903.8 2322.6,906.8 2209.7,880.2 2204.9,878 2193.1,872.7 2186.2,869.5Z" fill="#0000a3" stroke="#0000a3" stroke-width="0.8" stroke-linejoin="round"/>
<path d="M2328.2,898 2327.4,899.3 2325.5,902.4 2186.2,869.5 2181.4,867.3 2169.7,862 2163.3,859.1Z" fill="#0000ab" stroke="#0000ab" stroke-width="0.8" stroke-linejoin="round"/>
<path d="M2330.9,893.7 2330.2,894.8 2328.2,898 2163.3,859.1 2157.9,856.6 2146.2,851.2 2141,848.8Z" fill="#0000b3" stroke="#0000b3" stroke-width="0.8" stroke-linejoin="round"/>
<path d="M2333.5,889.3 2333.1,890.1 2330.9,893.7 2141,848.8 2134.5,845.8 2122.7,840.3 2119.2,838.7Z" fill="#0000bb" stroke="#0000bb" stroke-width="0.8" stroke-linejoin="round"/>
<path d="M2336.1,885 2335.9,885.4 2333.5,889.3 2119.2,838.7 2111,834.8 2099.2,829.3 2097.9,828.7Z" fill="#0000c3" stroke="#0000c3" stroke-width="0.8" stroke-linejoin="round"/>
<path d="M2338.6,880.7 2336.1,885 2097.9,828.7 2087.5,823.8 2077.1,818.9Z" fill="#0000cb" stroke="#0000cb" stroke-width="0.8" stroke-linejoin="round"/>
<path d="M2341,876.4 2338.7,880.6 2338.6,880.7 2077.1,818.9 2075.8,818.3 2064,812.7 2056.8,809.2Z" fill="#0000d3" stroke="#0000d3" stroke-width="0.8" stroke-linejoin="round"/>
<path d="M2343.4,872.2 2341.5,875.6 2341,876.4 2056.8,809.2 2052.3,807.1 2040.6,801.5 2036.9,799.7Z" fill="#0000db" stroke="#0000db" stroke-width="0.8" stroke-linejoin="round"/>
<path d="M2345.8,867.9 2344.3,870.6 2343.4,872.2 2036.9,799.7 2028.8,795.8 2017.5,790.3Z" fill="#0000e3" stroke="#0000e3" stroke-width="0.8" stroke-linejoin="round"/>
<path d="M2348.1,863.7 2347.1,865.4 2345.8,867.9 2017.5,790.3 2017.1,790.1 2005.3,784.4 1998.5,781.1Z" fill="#0000eb" stroke="#0000eb" stroke-width="0.8" stroke-linejoin="round"/>
<path d="M2350.3,859.5 2350,860.2 2348.1,863.7 1998.5,781.1 1993.6,778.7 1981.9,772.9 1979.9,772Z" fill="#0000f3" stroke="#0000f3" stroke-width="0.8" stroke-linejoin="round"/>
<path d="M2352.5,855.3 2350.3,859.5 1979.9,772 1970.1,767.1 1961.6,762.9Z" fill="#0000fb" stroke="#0000fb" stroke-width="0.8" stroke-linejoin="round"/>
<path d="M2354.6,851.2 2352.8,854.8 2352.5,855.3 1961.6,762.9 1958.4,761.3 1946.7,755.5 1943.8,754Z" fill="#0004ff" stroke="#0004ff" stroke-width="0.8" stroke-linejoin="round"/>
<path d="M2356.8,847 2355.6,849.3 2354.6,851.2 1943.8,754 1934.9,749.6 1926.2,745.2Z" fill="#000cff" stroke="#000cff" stroke-width="0.8" stroke-linejoin="round"/>
<path d="M2358.8,842.9 2358.4,843.7 2356.8,847 1926.2,745.2 1923.2,743.7 1911.4,737.8 1909.1,736.6Z" fill="#0014ff" stroke="#0014ff" stroke-width="0.8" stroke-linejoin="round"/>
<path d="M2360.9,838.7 2358.8,842.9 1909.1,736.6 1899.7,731.8 1892.2,728Z" fill="#001cff" stroke="#001cff" stroke-width="0.8" stroke-linejoin="round"/>
<path d="M2362.8,834.6 2361.2,838 2360.9,838.7 1892.2,728 1888,725.8 1876.2,719.8 1875.6,719.5Z" fill="#0024ff" stroke="#0024ff" stroke-width="0.8" stroke-linejoin="round"/>
<path d="M2364.8,830.5 2364,832.1 2362.8,834.6 1875.6,719.5 1864.5,713.7 1859.4,711.1Z" fill="#002cff" stroke="#002cff" stroke-width="0.8" stroke-linejoin="round"/>
<path d="M2366.7,826.4 2364.8,830.5 1859.4,711.1 1852.8,707.6 1843.4,702.8Z" fill="#0034ff" stroke="#0034ff" stroke-width="0.8" stroke-linejoin="round"/>
<path d="M2368.6,822.4 2366.9,826.1 2366.7,826.4 1843.4,702.8 1841,701.5 1842.6,698Z" fill="#003cff" stroke="#003cff" stroke-width="0.8" stroke-linejoin="round"/>
<path d="M2370.5,818.3 2369.7,820 2368.6,822.4 1842.6,698 1843.8,695.4 1844.5,694Z" fill="#0044ff" stroke="#0044ff" stroke-width="0.8" stroke-linejoin="round"/>
<path d="M2372.3,814.2 2370.5,818.3 1844.5,694 1846.3,689.9Z" fill="#004cff" stroke="#004cff" stroke-width="0.8" stroke-linejoin="round"/>
<path d="M2374.1,810.2 2372.5,813.8 2372.3,814.2 1846.3,689.9 1846.7,689.1 1848.1,685.9Z" fill="#0054ff" stroke="#0054ff" stroke-width="0.8" stroke-linejoin="round"/>
<path d="M2375.8,806.2 2375.3,807.4 2374.1,810.2 1848.1,685.9 1849.5,682.7 1849.9,681.9Z" fill="#005cff" stroke="#005cff" stroke-width="0.8" stroke-linejoin="round"/>
<path d="M2377.6,802.2 2375.8,806.2 1849.9,681.9 1851.6,677.8Z" fill="#0064ff" stroke="#0064ff" stroke-width="0.8" stroke-linejoin="round"/>
<path d="M2379.3,798.2 2378.1,800.9 2377.6,802.2 1851.6,677.8 1852.3,676.2 1853.3,673.8Z" fill="#006cff" stroke="#006cff" stroke-width="0.8" stroke-linejoin="round"/>
<path d="M2381,794.2 2380.9,794.2 2379.3,798.2 1853.3,673.8 1855,669.8Z" fill="#0074ff" stroke="#0074ff" stroke-width="0.8" stroke-linejoin="round"/>
<path d="M2382.6,790.2 2381,794.2 1855,669.8 1855.1,669.5 1856.6,665.9Z" fill="#007cff" stroke="#007cff" stroke-width="0.8" stroke-linejoin="round"/>
<path d="M2384.2,786.2 2383.8,787.4 2382.6,790.2 1856.6,665.9 1857.9,662.7 1858.3,661.9Z" fill="#0083ff" stroke="#0083ff" stroke-width="0.8" stroke-linejoin="round"/>
<path d="M2385.9,782.2 2384.2,786.2 1858.3,661.9 1859.9,657.9Z" fill="#008bff" stroke="#008bff" stroke-width="0.8" stroke-linejoin="round"/>
<path d="M2387.4,778.3 2386.6,780.4 2385.9,782.2 1859.9,657.9 1860.7,655.7 1861.4,653.9Z" fill="#0093ff" stroke="#0093ff" stroke-width="0.8" stroke-linejoin="round"/>
<path d="M2389,774.3 2387.4,778.3 1861.4,653.9 1863,650Z" fill="#009bff" stroke="#009bff" stroke-width="0.8" stroke-linejoin="round"/>
<path d="M2390.5,770.4 2389.4,773.3 2389,774.3 1863,650 1863.6,648.6 1864.5,646Z" fill="#00a3ff" stroke="#00a3ff" stroke-width="0.8" stroke-linejoin="round"/>
<path d="M2392,766.4 2390.5,770.4 1864.5,646 1866.1,642.1Z" fill="#00abff" stroke="#00abff" stroke-width="0.8" stroke-linejoin="round"/>
<path d="M2393.5,762.5 2392.2,766 2392,766.4 1866.1,642.1 1866.4,641.3 1867.5,638.2Z" fill="#00b3ff" stroke="#00b3ff" stroke-width="0.8" stroke-linejoin="round"/>
<path d="M2395,758.6 2393.5,762.5 1867.5,638.2 1869,634.3Z" fill="#00bbff" stroke="#00bbff" stroke-width="0.8" stroke-linejoin="round"/>
<path d="M2396.5,754.7 2395,758.5 2395,758.6 1869,634.3 1869.2,633.8 1870.5,630.3Z" fill="#00c3ff" stroke="#00c3ff" stroke-width="0.8" stroke-linejoin="round"/>
<path d="M2397.9,750.7 2397.8,750.9 2396.5,754.7 1870.5,630.3 1871.9,626.4Z" fill="#00cbff" stroke="#00cbff" stroke-width="0.8" stroke-linejoin="round"/>
<path d="M2399.3,746.8 2397.9,750.7 1871.9,626.4 1872,626.2 1873.3,622.5Z" fill="#00d3ff" stroke="#00d3ff" stroke-width="0.8" stroke-linejoin="round"/>
<path d="M2400.7,743 2400.7,743.1 2399.3,746.8 1873.3,622.5 1874.7,618.6Z" fill="#00dbff" stroke="#00dbff" stroke-width="0.8" stroke-linejoin="round"/>
<path d="M2402.1,739.1 2400.7,743 1874.7,618.6 1874.8,618.3 1876.1,614.8Z" fill="#00e3ff" stroke="#00e3ff" stroke-width="0.8" stroke-linejoin="round"/>
<path d="M2403.5,735.2 2402.1,739.1 1876.1,614.8 1877.5,610.9Z" fill="#00ebff" stroke="#00ebff" stroke-width="0.8" stroke-linejoin="round"/>
<path d="M2404.8,731.3 2403.5,735.1 2403.5,735.2 1877.5,610.9 1877.6,610.4 1878.8,607Z" fill="#00f3ff" stroke="#00f3ff" stroke-width="0.8" stroke-linejoin="round"/>
<path d="M2406.1,727.4 2404.8,731.3 1878.8,607 1880.1,603.1Z" fill="#00fbff" stroke="#00fbff" stroke-width="0.8" stroke-linejoin="round"/>
<path d="M2407.4,723.6 2406.3,726.9 2406.1,727.4 1880.1,603.1 1880.5,602.2 1881.4,599.3Z" fill="#04fffb" stroke="#04fffb" stroke-width="0.8" stroke-linejoin="round"/>
<path d="M2408.7,719.7 2407.4,723.6 1881.4,599.3 1882.7,595.4Z" fill="#0cfff3" stroke="#0cfff3" stroke-width="0.8" stroke-linejoin="round"/>
<path d="M2410,715.9 2409.1,718.6 2408.7,719.7 1882.7,595.4 1883.3,593.8 1884,591.6Z" fill="#14ffeb" stroke="#14ffeb" stroke-width="0.8" stroke-linejoin="round"/>
<path d="M2411.3,712 2410,715.9 1884,591.6 1885.3,587.7Z" fill="#1cffe3" stroke="#1cffe3" stroke-width="0.8" stroke-linejoin="round"/>
<path d="M2412.5,708.2 2411.9,710 2411.3,712 1885.3,587.7 1886.1,585.2 1886.5,583.9Z" fill="#24ffdb" stroke="#24ffdb" stroke-width="0.8" stroke-linejoin="round"/>
<path d="M2413.8,704.3 2412.5,708.2 1886.5,583.9 1887.8,580Z" fill="#2cffd3" stroke="#2cffd3" stroke-width="0.8" stroke-linejoin="round"/>
<path d="M2415,700.5 2414.7,701.3 2413.8,704.3 1887.8,580 1888.9,576.5 1889,576.2Z" fill="#34ffcb" stroke="#34ffcb" stroke-width="0.8" stroke-linejoin="round"/>
<path d="M2416.2,696.7 2415,700.5 1889,576.2 1890.2,572.4Z" fill="#3cffc3" stroke="#3cffc3" stroke-width="0.8" stroke-linejoin="round"/>
<path d="M2417.4,692.9 2416.2,696.7 1890.2,572.4 1891.4,568.6Z" fill="#44ffbb" stroke="#44ffbb" stroke-width="0.8" stroke-linejoin="round"/>
<path d="M2418.6,689.1 2417.6,692.3 2417.4,692.9 1891.4,568.6 1891.7,567.5 1892.6,564.7Z" fill="#4cffb3" stroke="#4cffb3" stroke-width="0.8" stroke-linejoin="round"/>
<path d="M2419.7,685.2 2418.6,689.1 1892.6,564.7 1893.8,560.9Z" fill="#54ffab" stroke="#54ffab" stroke-width="0.8" stroke-linejoin="round"/>
<path d="M2420.9,681.4 2420.4,683.1 2419.7,685.2 1893.8,560.9 1894.5,558.3 1894.9,557.1Z" fill="#5cffa3" stroke="#5cffa3" stroke-width="0.8" stroke-linejoin="round"/>
<path d="M2422,677.6 2420.9,681.4 1894.9,557.1 1896.1,553.3Z" fill="#64ff9b" stroke="#64ff9b" stroke-width="0.8" stroke-linejoin="round"/>
<path d="M2423.2,673.8 2422,677.6 1896.1,553.3 1897.2,549.5Z" fill="#6cff93" stroke="#6cff93" stroke-width="0.8" stroke-linejoin="round"/>
<path d="M2414.1,667.6 2423.2,673.8 2423.2,673.8 1897.2,549.5 1897.4,548.9 1898.3,545.7Z" fill="#74ff8b" stroke="#74ff8b" stroke-width="0.8" stroke-linejoin="round"/>
<path d="M2404.9,661.4 2411.5,665.9 2414.1,667.6 1898.3,545.7 1899.4,541.9Z" fill="#7cff83" stroke="#7cff83" stroke-width="0.8" stroke-linejoin="round"/>
<path d="M2395.8,655.2 2399.7,657.9 2404.9,661.4 1899.4,541.9 1900.2,539.3 1900.5,538.2Z" fill="#83ff7c" stroke="#83ff7c" stroke-width="0.8" stroke-linejoin="round"/>
<path d="M2386.7,649 2388,649.9 2395.8,655.2 1900.5,538.2 1901.6,534.4Z" fill="#8bff74" stroke="#8bff74" stroke-width="0.8" stroke-linejoin="round"/>
<path d="M2377.8,642.9 2386.7,649 1901.6,534.4 1902.7,530.6Z" fill="#93ff6c" stroke="#93ff6c" stroke-width="0.8" stroke-linejoin="round"/>
<path d="M2368.9,636.8 2376.2,641.8 2377.8,642.9 1902.7,530.6 1903,529.5 1903.7,526.8Z" fill="#9bff64" stroke="#9bff64" stroke-width="0.8" stroke-linejoin="round"/>
<path d="M2360.2,630.7 2364.5,633.7 2368.9,636.8 1903.7,526.8 1904.8,523.1Z" fill="#a3ff5c" stroke="#a3ff5c" stroke-width="0.8" stroke-linejoin="round"/>
<path d="M2351.5,624.6 2352.8,625.5 2360.2,630.7 1904.8,523.1 1905.8,519.4 1905.8,519.3Z" fill="#abff54" stroke="#abff54" stroke-width="0.8" stroke-linejoin="round"/>
<path d="M2342.9,618.6 2351.5,624.6 1905.8,519.3 1906.9,515.5Z" fill="#b3ff4c" stroke="#b3ff4c" stroke-width="0.8" stroke-linejoin="round"/>
<path d="M2334.4,612.6 2341,617.3 2342.9,618.6 1906.9,515.5 1907.9,511.8Z" fill="#bbff44" stroke="#bbff44" stroke-width="0.8" stroke-linejoin="round"/>
<path d="M2326,606.6 2329.3,609 2334.4,612.6 1907.9,511.8 1908.6,509.1 1908.9,508Z" fill="#c3ff3c" stroke="#c3ff3c" stroke-width="0.8" stroke-linejoin="round"/>
<path d="M2317.6,600.6 2326,606.6 1908.9,508 1909.9,504.3Z" fill="#cbff34" stroke="#cbff34" stroke-width="0.8" stroke-linejoin="round"/>
<path d="M2309.3,594.7 2317.6,600.6 2317.6,600.6 1909.9,504.3 1910.9,500.5Z" fill="#d3ff2c" stroke="#d3ff2c" stroke-width="0.8" stroke-linejoin="round"/>
<path d="M2301.1,588.8 2305.8,592.2 2309.3,594.7 1910.9,500.5 1911.4,498.5 1911.9,496.8Z" fill="#dbff24" stroke="#dbff24" stroke-width="0.8" stroke-linejoin="round"/>
<path d="M2293,582.9 2294.1,583.7 2301.1,588.8 1911.9,496.8 1912.9,493Z" fill="#e3ff1c" stroke="#e3ff1c" stroke-width="0.8" stroke-linejoin="round"/>
<path d="M2284.9,577 2293,582.9 1912.9,493 1913.8,489.3Z" fill="#ebff14" stroke="#ebff14" stroke-width="0.8" stroke-linejoin="round"/>
<path d="M2277,571.2 2282.3,575.1 2284.9,577 1913.8,489.3 1914.3,487.7 1914.8,485.6Z" fill="#f3ff0c" stroke="#f3ff0c" stroke-width="0.8" stroke-linejoin="round"/>
<path d="M2269,565.3 2270.6,566.5 2277,571.2 1914.8,485.6 1915.8,481.8Z" fill="#fbff04" stroke="#fbff04" stroke-width="0.8" stroke-linejoin="round"/>
<path d="M2261.2,559.5 2269,565.3 1915.8,481.8 1916.7,478.1Z" fill="#fffb00" stroke="#fffb00" stroke-width="0.8" stroke-linejoin="round"/>
<path d="M2253.4,553.7 2258.9,557.8 2261.2,559.5 1916.7,478.1 1917.1,476.6 1917.6,474.4Z" fill="#fff300" stroke="#fff300" stroke-width="0.8" stroke-linejoin="round"/>
<path d="M2245.7,548 2247.1,549 2253.4,553.7 1917.6,474.4 1918.6,470.7Z" fill="#ffeb00" stroke="#ffeb00" stroke-width="0.8" stroke-linejoin="round"/>
<path d="M2238.1,542.2 2245.7,548 1918.6,470.7 1919.5,466.9Z" fill="#ffe300" stroke="#ffe300" stroke-width="0.8" stroke-linejoin="round"/>
<path d="M2230.5,536.5 2235.4,540.2 2238.1,542.2 1919.5,466.9 1919.9,465.3 1920.4,463.2Z" fill="#ffdb00" stroke="#ffdb00" stroke-width="0.8" stroke-linejoin="round"/>
<path d="M2223,530.8 2223.7,531.3 2230.5,536.5 1920.4,463.2 1921.3,459.5Z" fill="#ffd300" stroke="#ffd300" stroke-width="0.8" stroke-linejoin="round"/>
<path d="M2215.5,525.1 2223,530.8 1921.3,459.5 1922.2,455.8Z" fill="#ffcb00" stroke="#ffcb00" stroke-width="0.8" stroke-linejoin="round"/>
<path d="M2208.1,519.5 2211.9,522.4 2215.5,525.1 1922.2,455.8 1922.7,453.6 1923.1,452.1Z" fill="#ffc300" stroke="#ffc300" stroke-width="0.8" stroke-linejoin="round"/>
<path d="M2200.8,513.8 2208.1,519.5 1923.1,452.1 1924,448.4Z" fill="#ffbb00" stroke="#ffbb00" stroke-width="0.8" stroke-linejoin="round"/>
<path d="M2193.5,508.2 2200.2,513.3 2200.8,513.8 1924,448.4 1924.8,444.7Z" fill="#ffb300" stroke="#ffb300" stroke-width="0.8" stroke-linejoin="round"/>
<path d="M2186.3,502.6 2188.4,504.2 2193.5,508.2 1924.8,444.7 1925.5,441.7 1925.7,441Z" fill="#ffab00" stroke="#ffab00" stroke-width="0.8" stroke-linejoin="round"/>
<path d="M2179.2,497 2186.3,502.6 1925.7,441 1926.6,437.3Z" fill="#ffa300" stroke="#ffa300" stroke-width="0.8" stroke-linejoin="round"/>
<path d="M2172.1,491.4 2176.7,495.1 2179.2,497 1926.6,437.3 1927.4,433.6Z" fill="#ff9b00" stroke="#ff9b00" stroke-width="0.8" stroke-linejoin="round"/>
<path d="M2165.1,485.9 2172.1,491.4 1927.4,433.6 1928.3,429.9Z" fill="#ff9300" stroke="#ff9300" stroke-width="0.8" stroke-linejoin="round"/>
<path d="M2158.1,480.3 2165,485.8 2165.1,485.9 1928.3,429.9 1928.3,429.6 1929.1,426.2Z" fill="#ff8b00" stroke="#ff8b00" stroke-width="0.8" stroke-linejoin="round"/>
<path d="M2151.1,474.8 2153.2,476.5 2158.1,480.3 1929.1,426.2 1929.9,422.5Z" fill="#ff8300" stroke="#ff8300" stroke-width="0.8" stroke-linejoin="round"/>
<path d="M2144.3,469.3 2151.1,474.8 1929.9,422.5 1930.8,418.8Z" fill="#ff7c00" stroke="#ff7c00" stroke-width="0.8" stroke-linejoin="round"/>
<path d="M2137.4,463.8 2141.5,467.1 2144.3,469.3 1930.8,418.8 1931.2,417.1 1931.6,415.2Z" fill="#ff7400" stroke="#ff7400" stroke-width="0.8" stroke-linejoin="round"/>
<path d="M2130.7,458.3 2137.4,463.8 1931.6,415.2 1932.4,411.5Z" fill="#ff6c00" stroke="#ff6c00" stroke-width="0.8" stroke-linejoin="round"/>
<path d="M2123.9,452.9 2129.8,457.6 2130.7,458.3 1932.4,411.5 1933.2,407.8Z" fill="#ff6400" stroke="#ff6400" stroke-width="0.8" stroke-linejoin="round"/>
<path d="M2117.3,447.4 2118,448 2123.9,452.9 1933.2,407.8 1934,404.3 1934,404.1Z" fill="#ff5c00" stroke="#ff5c00" stroke-width="0.8" stroke-linejoin="round"/>
<path d="M2110.6,442 2117.3,447.4 1934,404.1 1934.8,400.4Z" fill="#ff5400" stroke="#ff5400" stroke-width="0.8" stroke-linejoin="round"/>
<path d="M2104.1,436.6 2106.3,438.4 2110.6,442 1934.8,400.4 1935.6,396.8Z" fill="#ff4c00" stroke="#ff4c00" stroke-width="0.8" stroke-linejoin="round"/>
<path d="M2097.5,431.2 2104.1,436.6 1935.6,396.8 1936.4,393.1Z" fill="#ff4400" stroke="#ff4400" stroke-width="0.8" stroke-linejoin="round"/>
<path d="M2091.1,425.8 2094.5,428.7 2097.5,431.2 1936.4,393.1 1936.8,391.2 1937.2,389.4Z" fill="#ff3c00" stroke="#ff3c00" stroke-width="0.8" stroke-linejoin="round"/>
<path d="M2084.6,420.4 2091.1,425.8 1937.2,389.4 1937.9,385.8Z" fill="#ff3400" stroke="#ff3400" stroke-width="0.8" stroke-linejoin="round"/>
<path d="M2078.2,415.1 2082.8,418.9 2084.6,420.4 1937.9,385.8 1938.7,382.1Z" fill="#ff2c00" stroke="#ff2c00" stroke-width="0.8" stroke-linejoin="round"/>
<path d="M2071.9,409.7 2078.2,415.1 1938.7,382.1 1939.5,378.4Z" fill="#ff2400" stroke="#ff2400" stroke-width="0.8" stroke-linejoin="round"/>
<path d="M2065.6,404.4 2071.1,409 2071.9,409.7 1939.5,378.4 1939.6,377.8 1940.2,374.8Z" fill="#ff1c00" stroke="#ff1c00" stroke-width="0.8" stroke-linejoin="round"/>
<path d="M2059.4,399.1 2065.6,404.4 1940.2,374.8 1941,371.1Z" fill="#ff1400" stroke="#ff1400" stroke-width="0.8" stroke-linejoin="round"/>
<path d="M2053.1,393.8 2059.3,399.1 2059.4,399.1 1941,371.1 1941.7,367.5Z" fill="#ff0c00" stroke="#ff0c00" stroke-width="0.8" stroke-linejoin="round"/>
<path d="M2047,388.5 2047.6,389 2053.1,393.8 1941.7,367.5 1942.4,364 1942.5,363.8Z" fill="#ff0400" stroke="#ff0400" stroke-width="0.8" stroke-linejoin="round"/>
<path d="M2040.9,383.2 2047,388.5 1942.5,363.8 1943.2,360.2Z" fill="#fb0000" stroke="#fb0000" stroke-width="0.8" stroke-linejoin="round"/>
<path d="M2034.8,378 2035.9,378.9 2040.9,383.2 1943.2,360.2 1943.9,356.5Z" fill="#f30000" stroke="#f30000" stroke-width="0.8" stroke-linejoin="round"/>
<path d="M2028.7,372.7 2034.8,378 1943.9,356.5 1944.7,352.9Z" fill="#eb0000" stroke="#eb0000" stroke-width="0.8" stroke-linejoin="round"/>
<path d="M2022.7,367.5 2024.1,368.7 2028.7,372.7 1944.7,352.9 1945.2,349.9 1945.4,349.2Z" fill="#e30000" stroke="#e30000" stroke-width="0.8" stroke-linejoin="round"/>
<path d="M2016.8,362.3 2022.7,367.5 1945.4,349.2 1946.1,345.6Z" fill="#db0000" stroke="#db0000" stroke-width="0.8" stroke-linejoin="round"/>
<path d="M2010.9,357.1 2012.4,358.4 2016.8,362.3 1946.1,345.6 1946.8,341.9Z" fill="#d30000" stroke="#d30000" stroke-width="0.8" stroke-linejoin="round"/>
<path d="M2005,351.9 2010.9,357.1 1946.8,341.9 1947.5,338.3Z" fill="#cb0000" stroke="#cb0000" stroke-width="0.8" stroke-linejoin="round"/>
<path d="M1999.1,346.7 2000.7,348 2005,351.9 1947.5,338.3 1948.1,335.5 1948.2,334.6Z" fill="#c30000" stroke="#c30000" stroke-width="0.8" stroke-linejoin="round"/>
<path d="M1993.3,341.5 1999.1,346.7 1948.2,334.6 1948.9,331Z" fill="#bb0000" stroke="#bb0000" stroke-width="0.8" stroke-linejoin="round"/>
<path d="M1987.6,336.3 1988.9,337.6 1993.3,341.5 1948.9,331 1949.6,327.4Z" fill="#b30000" stroke="#b30000" stroke-width="0.8" stroke-linejoin="round"/>
<path d="M1981.8,331.2 1987.6,336.3 1949.6,327.4 1950.3,323.7Z" fill="#ab0000" stroke="#ab0000" stroke-width="0.8" stroke-linejoin="round"/>
<path d="M1976.1,326 1977.2,327 1981.8,331.2 1950.3,323.7 1950.9,320.7 1951,320.1Z" fill="#a30000" stroke="#a30000" stroke-width="0.8" stroke-linejoin="round"/>
<path d="M1970.5,320.9 1976.1,326 1951,320.1 1951.7,316.5Z" fill="#9b0000" stroke="#9b0000" stroke-width="0.8" stroke-linejoin="round"/>
<path d="M1964.8,315.8 1965.4,316.3 1970.5,320.9 1951.7,316.5 1952.4,312.8Z" fill="#930000" stroke="#930000" stroke-width="0.8" stroke-linejoin="round"/>
<path d="M1959.3,310.7 1964.8,315.8 1952.4,312.8 1953,309.2Z" fill="#8b0000" stroke="#8b0000" stroke-width="0.8" stroke-linejoin="round"/>
<path d="M1953.7,305.6 1959.3,310.7 1953,309.2Z" fill="#830000" stroke="#830000" stroke-width="0.8" stroke-linejoin="round"/>
<line x1="1738.5" y1="821.5" x2="1738.5" y2="384.4" stroke="#000" stroke-width="1.4"/>
<line x1="1738.5" y1="821.5" x2="2208" y2="966.5" stroke="#000" stroke-width="1.4"/>
<line x1="2208" y1="966.5" x2="2638.4" y2="808.9" stroke="#000" stroke-width="1.4"/>
<line x1="1738.5" y1="821.5" x2="1727.3" y2="818" stroke="#000" stroke-width="1.3"/>
<text transform="translate(1688.2 826.1) scale(0.9000 1)" font-size="25.5" fill="#000">0.2</text>
<line x1="1738.5" y1="766.9" x2="1727.3" y2="763.4" stroke="#000" stroke-width="1.3"/>
<text transform="translate(1688 771.5) scale(0.9000 1)" font-size="25.5" fill="#000">0.3</text>
<line x1="1738.5" y1="712.2" x2="1727.3" y2="708.8" stroke="#000" stroke-width="1.3"/>
<text transform="translate(1687.7 716.8) scale(0.9000 1)" font-size="25.5" fill="#000">0.4</text>
<line x1="1738.5" y1="657.6" x2="1727.3" y2="654.1" stroke="#000" stroke-width="1.3"/>
<text transform="translate(1688 662.2) scale(0.9000 1)" font-size="25.5" fill="#000">0.5</text>
<line x1="1738.5" y1="602.9" x2="1727.3" y2="599.5" stroke="#000" stroke-width="1.3"/>
<text transform="translate(1688 607.6) scale(0.9000 1)" font-size="25.5" fill="#000">0.6</text>
<line x1="1738.5" y1="548.3" x2="1727.3" y2="544.8" stroke="#000" stroke-width="1.3"/>
<text transform="translate(1688.2 552.9) scale(0.9000 1)" font-size="25.5" fill="#000">0.7</text>
<line x1="1738.5" y1="493.7" x2="1727.3" y2="490.2" stroke="#000" stroke-width="1.3"/>
<text transform="translate(1688 498.3) scale(0.9000 1)" font-size="25.5" fill="#000">0.8</text>
<line x1="1738.5" y1="439" x2="1727.3" y2="435.6" stroke="#000" stroke-width="1.3"/>
<text transform="translate(1688.1 443.6) scale(0.9000 1)" font-size="25.5" fill="#000">0.9</text>
<line x1="1738.5" y1="384.4" x2="1727.3" y2="380.9" stroke="#000" stroke-width="1.3"/>
<text transform="translate(1707.3 389) scale(0.9000 1)" font-size="25.5" fill="#000">1</text>
<line x1="1738.5" y1="821.5" x2="1727.7" y2="825.5" stroke="#000" stroke-width="1.3"/>
<text transform="translate(1707.6 852.7) scale(0.9000 1)" font-size="25.5" fill="#000">0</text>
<line x1="1832.4" y1="850.5" x2="1821.6" y2="854.5" stroke="#000" stroke-width="1.3"/>
<text transform="translate(1788.1 881.8) scale(0.9000 1)" font-size="25.5" fill="#000">10</text>
<line x1="1926.3" y1="879.5" x2="1915.5" y2="883.5" stroke="#000" stroke-width="1.3"/>
<text transform="translate(1881.1 911.6) scale(0.9000 1)" font-size="25.5" fill="#000">20</text>
<line x1="2020.2" y1="908.5" x2="2009.4" y2="912.5" stroke="#000" stroke-width="1.3"/>
<text transform="translate(1975.6 940.1) scale(0.9000 1)" font-size="25.5" fill="#000">30</text>
<line x1="2114.1" y1="937.5" x2="2103.3" y2="941.5" stroke="#000" stroke-width="1.3"/>
<text transform="translate(2069.4 968.7) scale(0.9000 1)" font-size="25.5" fill="#000">40</text>
<line x1="2208" y1="966.5" x2="2197.2" y2="970.5" stroke="#000" stroke-width="1.3"/>
<text transform="translate(2163.5 997.1) scale(0.9000 1)" font-size="25.5" fill="#000">50</text>
<line x1="2208" y1="966.5" x2="2219.2" y2="970" stroke="#000" stroke-width="1.3"/>
<text transform="translate(2225.8 996.2) scale(0.9000 1)" font-size="25.5" fill="#000">2</text>
<line x1="2315.6" y1="927.1" x2="2326.8" y2="930.6" stroke="#000" stroke-width="1.3"/>
<text transform="translate(2333.3 956.7) scale(0.9000 1)" font-size="25.5" fill="#000">1</text>
<line x1="2423.2" y1="887.7" x2="2434.4" y2="891.2" stroke="#000" stroke-width="1.3"/>
<text transform="translate(2441.4 917.1) scale(0.9000 1)" font-size="25.5" fill="#000">0</text>
<line x1="2530.8" y1="848.3" x2="2542" y2="851.8" stroke="#000" stroke-width="1.3"/>
<text transform="translate(2546.5 878.8) scale(0.9000 1)" font-size="25.5" fill="#000">-1</text>
<line x1="2638.4" y1="808.9" x2="2649.6" y2="812.4" stroke="#000" stroke-width="1.3"/>
<text transform="translate(2656.6 839.3) scale(0.9000 1)" font-size="25.5" fill="#000">-2</text>
<text transform="translate(2024.8 206.1) scale(1.0317 1)" font-size="29.5" fill="#000">Predictive Potential Field</text>
<text transform="translate(1668.5 732.1) rotate(-90) scale(1.0037 1)" font-size="30.5">Predictive Potential</text>
<text transform="translate(1768.6 961.2) scale(1.0113 1)" font-size="30" fill="#000">d(q,qo) / pixel</text>
<text transform="translate(2432 957.2) scale(0.9833 1)" font-size="30" fill="#000">Δθv / rad</text>
<path d="M1966.8,315.3 1960.6,321.5 1951.8,321.5 1945.6,315.3 1945.6,306.5 1951.8,300.3 1960.6,300.3 1966.8,306.5Z" fill="#0000ff" stroke="#000050" stroke-width="1.2"/>
<rect x="2410.5" y="662" width="25.6" height="24" fill="#ff0000" stroke="#200" stroke-width="1.3"/>
<text transform="translate(1714.7 251.5) scale(1.1104 1)" font-size="27.5" fill="#000">Obstacle</text>
<text transform="translate(1740.6 286.5) scale(1.1042 1)" font-size="27.5" fill="#000">Point</text>
<line x1="1835" y1="258.5" x2="1928.8" y2="300.8" stroke="#000" stroke-width="1.3"/>
<path d="M1943.4,307.4 1917.4,306.6 1928.8,300.8 1925.6,288.4Z" fill="#000" stroke="none" stroke-width="1"/>
<text x="2285.8" y="430.9" font-size="30" fill="#000">exponentially</text>
<text x="2312.3" y="465.3" font-size="30" fill="#000">decrease</text>
<text x="2277.3" y="499.7" font-size="30" fill="#000">along distance</text>
<line x1="2046" y1="340" x2="2346.8" y2="575.1" stroke="#000" stroke-width="1.3"/>
<path d="M2359.4,585 2334.3,578.1 2346.8,575.1 2346.7,562.3Z" fill="#000" stroke="none" stroke-width="1"/>
<text transform="translate(2495.6 618.5) scale(1.0157 1)" font-size="30" fill="#000">USV Position</text>
<line x1="2493.4" y1="625.5" x2="2445" y2="652.7" stroke="#000" stroke-width="1.3"/>
<path d="M2431,660.5 2447,640 2445,652.7 2456.8,657.5Z" fill="#000" stroke="none" stroke-width="1"/>
<text transform="translate(2010.7 694) scale(1.0064 1)" font-size="30" fill="#000">exponentially decrease</text>
<text transform="translate(2038.1 728.2) scale(1.0071 1)" font-size="30" fill="#000">along turning angle</text>
<line x1="2316.7" y1="736.7" x2="2395.7" y2="847" stroke="#000" stroke-width="1.3"/>
<path d="M2405,860 2382.9,846.3 2395.7,847 2399.2,834.7Z" fill="#000" stroke="none" stroke-width="1"/>
<line x1="2423.3" y1="872.3" x2="2348.4" y2="900.2" stroke="#000" stroke-width="1.3"/>
<path d="M2333.4,905.8 2352.4,888 2348.4,900.2 2359.4,906.8Z" fill="#000" stroke="none" stroke-width="1"/>
<line x1="2423.3" y1="872.3" x2="2498.2" y2="844.4" stroke="#000" stroke-width="1.3"/>
<path d="M2513.2,838.8 2494.2,856.6 2498.2,844.4 2487.2,837.8Z" fill="#000" stroke="none" stroke-width="1"/>
<clipPath id="clipT"><path d="M105.3,1010.1 115.7,1018.1 126.1,1025.9 136.6,1033.6 147,1041.1 157.4,1048.5 167.8,1055.7 178.2,1062.9 188.6,1069.8 199.1,1076.7 209.5,1083.3 219.9,1089.9 230.3,1096.3 240.7,1102.5 251.2,1108.7 261.6,1114.6 272,1120.5 282.4,1126.2 292.8,1131.7 303.2,1137.1 313.7,1142.4 324.1,1147.5 334.5,1152.5 344.9,1157.4 355.3,1162.1 365.8,1166.6 376.2,1171 386.6,1175.3 397,1179.4 407.4,1183.4 417.8,1187.3 428.3,1191 438.7,1194.6 449.1,1198 459.5,1201.3 469.9,1204.4 480.3,1207.4 490.8,1210.3 501.2,1213 511.6,1215.6 522,1218 527.4,1216.3 532.8,1214.6 538.1,1212.7 543.5,1210.8 548.9,1208.8 554.3,1206.7 559.7,1204.4 565,1202.1 570.4,1199.8 575.8,1197.3 581.2,1194.7 586.5,1192.1 591.9,1189.3 597.3,1186.5 602.7,1183.5 608,1180.5 613.4,1177.4 618.8,1174.2 624.2,1170.9 629.5,1167.5 634.9,1164.1 640.3,1160.5 645.7,1156.9 651,1153.1 656.4,1149.3 661.8,1145.4 667.2,1141.4 672.5,1137.3 677.9,1133.1 683.3,1128.8 688.7,1124.5 694,1120 699.4,1115.5 704.8,1110.8 710.2,1106.1 715.6,1101.3 720.9,1096.4 726.3,1091.4 731.7,1086.3 737.1,1081.1 726.6,1078.7 716.2,1076.1 705.8,1073.4 695.4,1070.5 685,1067.5 674.5,1064.4 664.1,1061.1 653.7,1057.7 643.3,1054.1 632.9,1050.4 622.5,1046.5 612,1042.6 601.6,1038.4 591.2,1034.1 580.8,1029.7 570.4,1025.2 560,1020.5 549.5,1015.6 539.1,1010.6 528.7,1005.5 518.3,1000.2 507.9,994.8 497.4,989.3 487,983.6 476.6,977.7 466.2,971.8 455.8,965.6 445.4,959.4 434.9,953 424.5,946.4 414.1,939.8 403.7,932.9 393.3,926 382.8,918.9 372.4,911.6 362,904.2 351.6,896.7 341.2,889 330.8,881.2 320.3,873.2 315,878.4 309.6,883.5 304.2,888.5 298.8,893.4 293.5,898.2 288.1,902.9 282.7,907.6 277.3,912.1 272,916.6 266.6,920.9 261.2,925.2 255.8,929.4 250.4,933.5 245.1,937.5 239.7,941.4 234.3,945.2 228.9,949 223.6,952.6 218.2,956.2 212.8,959.6 207.4,963 202.1,966.3 196.7,969.5 191.3,972.6 185.9,975.6 180.6,978.6 175.2,981.4 169.8,984.1 164.4,986.8 159.1,989.4 153.7,991.8 148.3,994.2 142.9,996.5 137.6,998.7 132.2,1000.9 126.8,1002.9 121.4,1004.8 116.1,1006.7 110.7,1008.4Z"/></clipPath>
<g clip-path="url(#clipT)">
<circle r="651.3" fill="#800000" transform="matrix(1.3460 0.3440 0.8720 -0.8200 705.3 583.6)"/>
<circle r="373.1" fill="#900000" transform="matrix(1.3460 0.3440 0.8720 -0.8200 705.3 920.7)"/>
<circle r="370.1" fill="#a00000" transform="matrix(1.3460 0.3440 0.8720 -0.8200 705.3 923.3)"/>
<circle r="367.1" fill="#b00000" transform="matrix(1.3460 0.3440 0.8720 -0.8200 705.3 925.9)"/>
<circle r="364.1" fill="#c00000" transform="matrix(1.3460 0.3440 0.8720 -0.8200 705.3 928.5)"/>
<circle r="361" fill="#d00000" transform="matrix(1.3460 0.3440 0.8720 -0.8200 705.3 931.1)"/>
<circle r="358" fill="#e10000" transform="matrix(1.3460 0.3440 0.8720 -0.8200 705.3 933.7)"/>
<circle r="354.9" fill="#f10000" transform="matrix(1.3460 0.3440 0.8720 -0.8200 705.3 936.3)"/>
<circle r="351.7" fill="#ff0200" transform="matrix(1.3460 0.3440 0.8720 -0.8200 705.3 938.9)"/>
<circle r="348.6" fill="#ff1200" transform="matrix(1.3460 0.3440 0.8720 -0.8200 705.3 941.6)"/>
<circle r="345.4" fill="#ff2200" transform="matrix(1.3460 0.3440 0.8720 -0.8200 705.3 944.2)"/>
<circle r="342.2" fill="#ff3300" transform="matrix(1.3460 0.3440 0.8720 -0.8200 705.3 946.8)"/>
<circle r="339" fill="#ff4300" transform="matrix(1.3460 0.3440 0.8720 -0.8200 705.3 949.4)"/>
<circle r="335.7" fill="#ff5300" transform="matrix(1.3460 0.3440 0.8720 -0.8200 705.3 952)"/>
<circle r="332.4" fill="#ff6300" transform="matrix(1.3460 0.3440 0.8720 -0.8200 705.3 954.6)"/>
<circle r="329" fill="#ff7300" transform="matrix(1.3460 0.3440 0.8720 -0.8200 705.3 957.2)"/>
<circle r="325.7" fill="#ff8400" transform="matrix(1.3460 0.3440 0.8720 -0.8200 705.3 959.8)"/>
<circle r="322.2" fill="#ff9400" transform="matrix(1.3460 0.3440 0.8720 -0.8200 705.3 962.5)"/>
<circle r="318.8" fill="#ffa400" transform="matrix(1.3460 0.3440 0.8720 -0.8200 705.3 965.1)"/>
<circle r="315.3" fill="#ffb400" transform="matrix(1.3460 0.3440 0.8720 -0.8200 705.3 967.7)"/>
<circle r="311.8" fill="#ffc400" transform="matrix(1.3460 0.3440 0.8720 -0.8200 705.3 970.3)"/>
<circle r="308.2" fill="#ffd500" transform="matrix(1.3460 0.3440 0.8720 -0.8200 705.3 972.9)"/>
<circle r="304.6" fill="#ffe500" transform="matrix(1.3460 0.3440 0.8720 -0.8200 705.3 975.5)"/>
<circle r="301" fill="#fff500" transform="matrix(1.3460 0.3440 0.8720 -0.8200 705.3 978.1)"/>
<circle r="297.3" fill="#f9ff06" transform="matrix(1.3460 0.3440 0.8720 -0.8200 705.3 980.7)"/>
<circle r="293.5" fill="#e9ff16" transform="matrix(1.3460 0.3440 0.8720 -0.8200 705.3 983.4)"/>
<circle r="289.8" fill="#d9ff26" transform="matrix(1.3460 0.3440 0.8720 -0.8200 705.3 986)"/>
<circle r="285.9" fill="#c8ff37" transform="matrix(1.3460 0.3440 0.8720 -0.8200 705.3 988.6)"/>
<circle r="282" fill="#b8ff47" transform="matrix(1.3460 0.3440 0.8720 -0.8200 705.3 991.2)"/>
<circle r="278.1" fill="#a8ff57" transform="matrix(1.3460 0.3440 0.8720 -0.8200 705.3 993.8)"/>
<circle r="274.1" fill="#98ff67" transform="matrix(1.3460 0.3440 0.8720 -0.8200 705.3 996.4)"/>
<circle r="270" fill="#88ff77" transform="matrix(1.3460 0.3440 0.8720 -0.8200 705.3 999)"/>
<circle r="265.9" fill="#77ff88" transform="matrix(1.3460 0.3440 0.8720 -0.8200 705.3 1001.6)"/>
<circle r="261.7" fill="#67ff98" transform="matrix(1.3460 0.3440 0.8720 -0.8200 705.3 1004.3)"/>
<circle r="257.5" fill="#57ffa8" transform="matrix(1.3460 0.3440 0.8720 -0.8200 705.3 1006.9)"/>
<circle r="253.1" fill="#47ffb8" transform="matrix(1.3460 0.3440 0.8720 -0.8200 705.3 1009.5)"/>
<circle r="248.7" fill="#37ffc8" transform="matrix(1.3460 0.3440 0.8720 -0.8200 705.3 1012.1)"/>
<circle r="244.2" fill="#26ffd9" transform="matrix(1.3460 0.3440 0.8720 -0.8200 705.3 1014.7)"/>
<circle r="239.7" fill="#16ffe9" transform="matrix(1.3460 0.3440 0.8720 -0.8200 705.3 1017.3)"/>
<circle r="235" fill="#06fff9" transform="matrix(1.3460 0.3440 0.8720 -0.8200 705.3 1019.9)"/>
<circle r="230.3" fill="#00f5ff" transform="matrix(1.3460 0.3440 0.8720 -0.8200 705.3 1022.5)"/>
<circle r="225.4" fill="#00e5ff" transform="matrix(1.3460 0.3440 0.8720 -0.8200 705.3 1025.2)"/>
<circle r="220.5" fill="#00d4ff" transform="matrix(1.3460 0.3440 0.8720 -0.8200 705.3 1027.8)"/>
<circle r="215.4" fill="#00c4ff" transform="matrix(1.3460 0.3440 0.8720 -0.8200 705.3 1030.4)"/>
<circle r="210.2" fill="#00b4ff" transform="matrix(1.3460 0.3440 0.8720 -0.8200 705.3 1033)"/>
<circle r="204.9" fill="#00a4ff" transform="matrix(1.3460 0.3440 0.8720 -0.8200 705.3 1035.6)"/>
<circle r="199.4" fill="#0094ff" transform="matrix(1.3460 0.3440 0.8720 -0.8200 705.3 1038.2)"/>
<circle r="193.8" fill="#0084ff" transform="matrix(1.3460 0.3440 0.8720 -0.8200 705.3 1040.8)"/>
<circle r="188" fill="#0073ff" transform="matrix(1.3460 0.3440 0.8720 -0.8200 705.3 1043.4)"/>
<circle r="182" fill="#0063ff" transform="matrix(1.3460 0.3440 0.8720 -0.8200 705.3 1046.1)"/>
<circle r="175.9" fill="#0053ff" transform="matrix(1.3460 0.3440 0.8720 -0.8200 705.3 1048.7)"/>
<circle r="169.5" fill="#0043ff" transform="matrix(1.3460 0.3440 0.8720 -0.8200 705.3 1051.3)"/>
<circle r="162.8" fill="#0033ff" transform="matrix(1.3460 0.3440 0.8720 -0.8200 705.3 1053.9)"/>
<circle r="155.9" fill="#0022ff" transform="matrix(1.3460 0.3440 0.8720 -0.8200 705.3 1056.5)"/>
<circle r="148.6" fill="#0012ff" transform="matrix(1.3460 0.3440 0.8720 -0.8200 705.3 1059.1)"/>
<circle r="141" fill="#0002ff" transform="matrix(1.3460 0.3440 0.8720 -0.8200 705.3 1061.7)"/>
<circle r="132.9" fill="#0000f1" transform="matrix(1.3460 0.3440 0.8720 -0.8200 705.3 1064.3)"/>
<circle r="124.4" fill="#0000e1" transform="matrix(1.3460 0.3440 0.8720 -0.8200 705.3 1067)"/>
<circle r="115.1" fill="#0000d0" transform="matrix(1.3460 0.3440 0.8720 -0.8200 705.3 1069.6)"/>
<circle r="105.1" fill="#0000c0" transform="matrix(1.3460 0.3440 0.8720 -0.8200 705.3 1072.2)"/>
<circle r="94" fill="#0000b0" transform="matrix(1.3460 0.3440 0.8720 -0.8200 705.3 1074.8)"/>
<circle r="81.4" fill="#0000a0" transform="matrix(1.3460 0.3440 0.8720 -0.8200 705.3 1077.4)"/>
<circle r="66.5" fill="#000090" transform="matrix(1.3460 0.3440 0.8720 -0.8200 705.3 1080)"/>
<circle r="47" fill="#000080" transform="matrix(1.3460 0.3440 0.8720 -0.8200 705.3 1082.6)"/>
</g>
<clipPath id="clipP"><path d="M910.9,1008.4 920.9,1016.2 930.9,1023.8 940.9,1031.3 950.9,1038.6 960.8,1045.8 970.8,1052.8 980.8,1059.8 990.8,1066.5 1000.8,1073.2 1010.8,1079.6 1020.8,1086 1030.8,1092.2 1040.7,1098.2 1050.7,1104.2 1060.7,1109.9 1070.7,1115.6 1080.7,1121.1 1090.7,1126.4 1100.7,1131.6 1110.7,1136.7 1120.6,1141.6 1130.6,1146.4 1140.6,1151 1150.6,1155.5 1160.6,1159.9 1170.6,1164.1 1180.6,1168.2 1190.6,1172.1 1200.5,1175.9 1210.5,1179.5 1220.5,1183 1230.5,1186.4 1240.5,1189.6 1250.5,1192.7 1260.5,1195.6 1270.5,1198.4 1280.4,1201.1 1290.4,1203.6 1300.4,1206 1310.4,1208.2 1315.5,1206.9 1320.6,1205.5 1325.7,1204.1 1330.8,1202.5 1335.9,1200.9 1341,1199.1 1346.1,1197.3 1351.1,1195.4 1356.2,1193.4 1361.3,1191.3 1366.4,1189.1 1371.5,1186.9 1376.6,1184.5 1381.7,1182.1 1386.8,1179.5 1391.9,1176.9 1397,1174.2 1402.1,1171.4 1407.2,1168.5 1412.3,1165.5 1417.3,1162.4 1422.4,1159.3 1427.5,1156 1432.6,1152.7 1437.7,1149.3 1442.8,1145.7 1447.9,1142.1 1453,1138.4 1458.1,1134.7 1463.2,1130.8 1468.3,1126.8 1473.4,1122.8 1478.5,1118.6 1483.5,1114.4 1488.6,1110.1 1493.7,1105.7 1498.8,1101.2 1503.9,1096.6 1509,1091.9 1514.1,1087.1 1504.1,1084.9 1494.1,1082.5 1484.1,1080 1474.1,1077.4 1464.2,1074.6 1454.2,1071.6 1444.2,1068.6 1434.2,1065.3 1424.2,1062 1414.2,1058.5 1404.2,1054.8 1394.2,1051 1384.3,1047.1 1374.3,1043 1364.3,1038.8 1354.3,1034.5 1344.3,1030 1334.3,1025.3 1324.3,1020.5 1314.3,1015.6 1304.4,1010.6 1294.4,1005.3 1284.4,1000 1274.4,994.5 1264.4,988.9 1254.4,983.1 1244.4,977.2 1234.4,971.1 1224.5,964.9 1214.5,958.6 1204.5,952.1 1194.5,945.5 1184.5,938.7 1174.5,931.8 1164.5,924.7 1154.5,917.5 1144.6,910.2 1134.6,902.7 1124.6,895.1 1114.6,887.3 1109.5,892.1 1104.4,896.8 1099.3,901.4 1094.2,905.9 1089.1,910.3 1084,914.6 1078.9,918.8 1073.9,923 1068.8,927 1063.7,931 1058.6,934.9 1053.5,938.7 1048.4,942.4 1043.3,946 1038.2,949.5 1033.1,952.9 1028,956.3 1022.9,959.5 1017.8,962.7 1012.7,965.7 1007.7,968.7 1002.6,971.6 997.5,974.4 992.4,977.1 987.3,979.7 982.2,982.3 977.1,984.7 972,987.1 966.9,989.4 961.8,991.5 956.7,993.6 951.6,995.6 946.5,997.5 941.5,999.4 936.4,1001.1 931.3,1002.7 926.2,1004.3 921.1,1005.7 916,1007.1Z"/></clipPath>
<g clip-path="url(#clipP)">
<circle r="651.3" fill="#800000" transform="matrix(1.2850 0.3190 0.8260 -0.7540 1482 592.3)"/>
<circle r="373.1" fill="#900000" transform="matrix(1.2850 0.3190 0.8260 -0.7540 1482 927)"/>
<circle r="370.1" fill="#a00000" transform="matrix(1.2850 0.3190 0.8260 -0.7540 1482 929.6)"/>
<circle r="367.1" fill="#b00000" transform="matrix(1.2850 0.3190 0.8260 -0.7540 1482 932.2)"/>
<circle r="364.1" fill="#c00000" transform="matrix(1.2850 0.3190 0.8260 -0.7540 1482 934.8)"/>
<circle r="361" fill="#d00000" transform="matrix(1.2850 0.3190 0.8260 -0.7540 1482 937.4)"/>
<circle r="358" fill="#e10000" transform="matrix(1.2850 0.3190 0.8260 -0.7540 1482 940)"/>
<circle r="354.9" fill="#f10000" transform="matrix(1.2850 0.3190 0.8260 -0.7540 1482 942.6)"/>
<circle r="351.7" fill="#ff0200" transform="matrix(1.2850 0.3190 0.8260 -0.7540 1482 945.2)"/>
<circle r="348.6" fill="#ff1200" transform="matrix(1.2850 0.3190 0.8260 -0.7540 1482 947.8)"/>
<circle r="345.4" fill="#ff2200" transform="matrix(1.2850 0.3190 0.8260 -0.7540 1482 950.4)"/>
<circle r="342.2" fill="#ff3300" transform="matrix(1.2850 0.3190 0.8260 -0.7540 1482 953)"/>
<circle r="339" fill="#ff4300" transform="matrix(1.2850 0.3190 0.8260 -0.7540 1482 955.6)"/>
<circle r="335.7" fill="#ff5300" transform="matrix(1.2850 0.3190 0.8260 -0.7540 1482 958.2)"/>
<circle r="332.4" fill="#ff6300" transform="matrix(1.2850 0.3190 0.8260 -0.7540 1482 960.8)"/>
<circle r="329" fill="#ff7300" transform="matrix(1.2850 0.3190 0.8260 -0.7540 1482 963.4)"/>
<circle r="325.7" fill="#ff8400" transform="matrix(1.2850 0.3190 0.8260 -0.7540 1482 966)"/>
<circle r="322.2" fill="#ff9400" transform="matrix(1.2850 0.3190 0.8260 -0.7540 1482 968.6)"/>
<circle r="318.8" fill="#ffa400" transform="matrix(1.2850 0.3190 0.8260 -0.7540 1482 971.1)"/>
<circle r="315.3" fill="#ffb400" transform="matrix(1.2850 0.3190 0.8260 -0.7540 1482 973.7)"/>
<circle r="311.8" fill="#ffc400" transform="matrix(1.2850 0.3190 0.8260 -0.7540 1482 976.3)"/>
<circle r="308.2" fill="#ffd500" transform="matrix(1.2850 0.3190 0.8260 -0.7540 1482 978.9)"/>
<circle r="304.6" fill="#ffe500" transform="matrix(1.2850 0.3190 0.8260 -0.7540 1482 981.5)"/>
<circle r="301" fill="#fff500" transform="matrix(1.2850 0.3190 0.8260 -0.7540 1482 984.1)"/>
<circle r="297.3" fill="#f9ff06" transform="matrix(1.2850 0.3190 0.8260 -0.7540 1482 986.7)"/>
<circle r="293.5" fill="#e9ff16" transform="matrix(1.2850 0.3190 0.8260 -0.7540 1482 989.3)"/>
<circle r="289.8" fill="#d9ff26" transform="matrix(1.2850 0.3190 0.8260 -0.7540 1482 991.9)"/>
<circle r="285.9" fill="#c8ff37" transform="matrix(1.2850 0.3190 0.8260 -0.7540 1482 994.5)"/>
<circle r="282" fill="#b8ff47" transform="matrix(1.2850 0.3190 0.8260 -0.7540 1482 997.1)"/>
<circle r="278.1" fill="#a8ff57" transform="matrix(1.2850 0.3190 0.8260 -0.7540 1482 999.7)"/>
<circle r="274.1" fill="#98ff67" transform="matrix(1.2850 0.3190 0.8260 -0.7540 1482 1002.3)"/>
<circle r="270" fill="#88ff77" transform="matrix(1.2850 0.3190 0.8260 -0.7540 1482 1004.9)"/>
<circle r="265.9" fill="#77ff88" transform="matrix(1.2850 0.3190 0.8260 -0.7540 1482 1007.5)"/>
<circle r="261.7" fill="#67ff98" transform="matrix(1.2850 0.3190 0.8260 -0.7540 1482 1010.1)"/>
<circle r="257.5" fill="#57ffa8" transform="matrix(1.2850 0.3190 0.8260 -0.7540 1482 1012.7)"/>
<circle r="253.1" fill="#47ffb8" transform="matrix(1.2850 0.3190 0.8260 -0.7540 1482 1015.3)"/>
<circle r="248.7" fill="#37ffc8" transform="matrix(1.2850 0.3190 0.8260 -0.7540 1482 1017.9)"/>
<circle r="244.2" fill="#26ffd9" transform="matrix(1.2850 0.3190 0.8260 -0.7540 1482 1020.5)"/>
<circle r="239.7" fill="#16ffe9" transform="matrix(1.2850 0.3190 0.8260 -0.7540 1482 1023)"/>
<circle r="235" fill="#06fff9" transform="matrix(1.2850 0.3190 0.8260 -0.7540 1482 1025.6)"/>
<circle r="230.3" fill="#00f5ff" transform="matrix(1.2850 0.3190 0.8260 -0.7540 1482 1028.2)"/>
<circle r="225.4" fill="#00e5ff" transform="matrix(1.2850 0.3190 0.8260 -0.7540 1482 1030.8)"/>
<circle r="220.5" fill="#00d4ff" transform="matrix(1.2850 0.3190 0.8260 -0.7540 1482 1033.4)"/>
<circle r="215.4" fill="#00c4ff" transform="matrix(1.2850 0.3190 0.8260 -0.7540 1482 1036)"/>
<circle r="210.2" fill="#00b4ff" transform="matrix(1.2850 0.3190 0.8260 -0.7540 1482 1038.6)"/>
<circle r="204.9" fill="#00a4ff" transform="matrix(1.2850 0.3190 0.8260 -0.7540 1482 1041.2)"/>
<circle r="199.4" fill="#0094ff" transform="matrix(1.2850 0.3190 0.8260 -0.7540 1482 1043.8)"/>
<circle r="193.8" fill="#0084ff" transform="matrix(1.2850 0.3190 0.8260 -0.7540 1482 1046.4)"/>
<circle r="188" fill="#0073ff" transform="matrix(1.2850 0.3190 0.8260 -0.7540 1482 1049)"/>
<circle r="182" fill="#0063ff" transform="matrix(1.2850 0.3190 0.8260 -0.7540 1482 1051.6)"/>
<circle r="175.9" fill="#0053ff" transform="matrix(1.2850 0.3190 0.8260 -0.7540 1482 1054.2)"/>
<circle r="169.5" fill="#0043ff" transform="matrix(1.2850 0.3190 0.8260 -0.7540 1482 1056.8)"/>
<circle r="162.8" fill="#0033ff" transform="matrix(1.2850 0.3190 0.8260 -0.7540 1482 1059.4)"/>
<circle r="155.9" fill="#0022ff" transform="matrix(1.2850 0.3190 0.8260 -0.7540 1482 1062)"/>
<circle r="148.6" fill="#0012ff" transform="matrix(1.2850 0.3190 0.8260 -0.7540 1482 1064.6)"/>
<circle r="141" fill="#0002ff" transform="matrix(1.2850 0.3190 0.8260 -0.7540 1482 1067.2)"/>
<circle r="132.9" fill="#0000f1" transform="matrix(1.2850 0.3190 0.8260 -0.7540 1482 1069.8)"/>
<circle r="124.4" fill="#0000e1" transform="matrix(1.2850 0.3190 0.8260 -0.7540 1482 1072.4)"/>
<circle r="115.1" fill="#0000d0" transform="matrix(1.2850 0.3190 0.8260 -0.7540 1482 1074.9)"/>
<circle r="105.1" fill="#0000c0" transform="matrix(1.2850 0.3190 0.8260 -0.7540 1482 1077.5)"/>
<circle r="94" fill="#0000b0" transform="matrix(1.2850 0.3190 0.8260 -0.7540 1482 1080.1)"/>
<circle r="81.4" fill="#0000a0" transform="matrix(1.2850 0.3190 0.8260 -0.7540 1482 1082.7)"/>
<circle r="66.5" fill="#000090" transform="matrix(1.2850 0.3190 0.8260 -0.7540 1482 1085.3)"/>
<circle r="47" fill="#000080" transform="matrix(1.2850 0.3190 0.8260 -0.7540 1482 1087.9)"/>
</g>
<line x1="105.3" y1="1177.3" x2="105.3" y2="988.1" stroke="#111" stroke-width="1.2"/>
<line x1="105.3" y1="1177.3" x2="522" y2="1283.8" stroke="#111" stroke-width="1.2"/>
<line x1="522" y1="1283.8" x2="737.1" y2="1081.6" stroke="#111" stroke-width="1.2"/>
<line x1="105.3" y1="1177.3" x2="96.1" y2="1174.9" stroke="#111" stroke-width="1.1"/>
<text x="79.4" y="1180.9" font-size="18.5" fill="#000">0</text>
<line x1="105.3" y1="1130" x2="96.1" y2="1127.6" stroke="#111" stroke-width="1.1"/>
<text x="79.6" y="1133.6" font-size="18.5" fill="#000">2</text>
<line x1="105.3" y1="1082.7" x2="96.1" y2="1080.3" stroke="#111" stroke-width="1.1"/>
<text x="79.3" y="1086.3" font-size="18.5" fill="#000">4</text>
<line x1="105.3" y1="1035.4" x2="96.1" y2="1033" stroke="#111" stroke-width="1.1"/>
<text x="79.5" y="1039" font-size="18.5" fill="#000">6</text>
<line x1="105.3" y1="988.1" x2="96.1" y2="985.7" stroke="#111" stroke-width="1.1"/>
<text x="79.5" y="991.7" font-size="18.5" fill="#000">8</text>
<line x1="123.2" y1="1181.9" x2="115.9" y2="1188.7" stroke="#111" stroke-width="1.1"/>
<text x="100.4" y="1210.9" font-size="18.5" fill="#000">0</text>
<line x1="190.5" y1="1199.1" x2="183.2" y2="1205.9" stroke="#111" stroke-width="1.1"/>
<text x="158.5" y="1228.2" font-size="18.5" fill="#000">50</text>
<line x1="257.8" y1="1216.3" x2="250.5" y2="1223.1" stroke="#111" stroke-width="1.1"/>
<text x="216.2" y="1245" font-size="18.5" fill="#000">100</text>
<line x1="325.1" y1="1233.5" x2="317.8" y2="1240.3" stroke="#111" stroke-width="1.1"/>
<text x="284.4" y="1261.6" font-size="18.5" fill="#000">150</text>
<line x1="392.4" y1="1250.7" x2="385.1" y2="1257.5" stroke="#111" stroke-width="1.1"/>
<text x="352.1" y="1278.3" font-size="18.5" fill="#000">200</text>
<line x1="459.7" y1="1267.9" x2="452.4" y2="1274.7" stroke="#111" stroke-width="1.1"/>
<text x="419.5" y="1295.7" font-size="18.5" fill="#000">250</text>
<line x1="531" y1="1275.4" x2="540.7" y2="1277.8" stroke="#111" stroke-width="1.1"/>
<text x="546.1" y="1294.7" font-size="18.5" fill="#000">0</text>
<line x1="574.6" y1="1234.4" x2="584.3" y2="1236.8" stroke="#111" stroke-width="1.1"/>
<text x="589.1" y="1253.2" font-size="18.5" fill="#000">50</text>
<line x1="618.2" y1="1193.4" x2="627.9" y2="1195.8" stroke="#111" stroke-width="1.1"/>
<text x="631.9" y="1212.3" font-size="18.5" fill="#000">100</text>
<line x1="661.8" y1="1152.4" x2="671.5" y2="1154.8" stroke="#111" stroke-width="1.1"/>
<text x="674.6" y="1171.2" font-size="18.5" fill="#000">150</text>
<line x1="705.4" y1="1111.4" x2="715.1" y2="1113.8" stroke="#111" stroke-width="1.1"/>
<text x="717.5" y="1130.8" font-size="18.5" fill="#000">200</text>
<line x1="910.9" y1="1174.4" x2="910.9" y2="986.5" stroke="#111" stroke-width="1.2"/>
<line x1="910.9" y1="1174.4" x2="1310.4" y2="1273.6" stroke="#111" stroke-width="1.2"/>
<line x1="1310.4" y1="1273.6" x2="1514.1" y2="1087.6" stroke="#111" stroke-width="1.2"/>
<line x1="910.9" y1="1174.4" x2="901.7" y2="1172.1" stroke="#111" stroke-width="1.1"/>
<text x="884.7" y="1177.8" font-size="18" fill="#000">0</text>
<line x1="910.9" y1="1127.4" x2="901.7" y2="1125.1" stroke="#111" stroke-width="1.1"/>
<text x="884.9" y="1130.9" font-size="18" fill="#000">2</text>
<line x1="910.9" y1="1080.4" x2="901.7" y2="1078.2" stroke="#111" stroke-width="1.1"/>
<text x="884.5" y="1083.9" font-size="18" fill="#000">4</text>
<line x1="910.9" y1="1033.5" x2="901.7" y2="1031.2" stroke="#111" stroke-width="1.1"/>
<text x="884.8" y="1036.9" font-size="18" fill="#000">6</text>
<line x1="910.9" y1="986.5" x2="901.7" y2="984.2" stroke="#111" stroke-width="1.1"/>
<text x="884.8" y="989.9" font-size="18" fill="#000">8</text>
<line x1="927.9" y1="1178.6" x2="920.5" y2="1185.4" stroke="#111" stroke-width="1.1"/>
<text x="905" y="1205.4" font-size="18" fill="#000">0</text>
<line x1="992.1" y1="1194.6" x2="984.7" y2="1201.3" stroke="#111" stroke-width="1.1"/>
<text x="960.5" y="1221.4" font-size="18" fill="#000">50</text>
<line x1="1056.4" y1="1210.5" x2="1049" y2="1217.3" stroke="#111" stroke-width="1.1"/>
<text x="1016.6" y="1237.4" font-size="18" fill="#000">100</text>
<line x1="1120.6" y1="1226.5" x2="1113.2" y2="1233.2" stroke="#111" stroke-width="1.1"/>
<text x="1080.6" y="1253.4" font-size="18" fill="#000">150</text>
<line x1="1184.9" y1="1242.4" x2="1177.5" y2="1249.2" stroke="#111" stroke-width="1.1"/>
<text x="1146.9" y="1268.9" font-size="18" fill="#000">200</text>
<line x1="1249.1" y1="1258.4" x2="1241.7" y2="1265.1" stroke="#111" stroke-width="1.1"/>
<text x="1210.9" y="1284.4" font-size="18" fill="#000">250</text>
<line x1="1318.9" y1="1265.8" x2="1328.6" y2="1268.2" stroke="#111" stroke-width="1.1"/>
<text x="1333.9" y="1283.4" font-size="18" fill="#000">0</text>
<line x1="1360.2" y1="1228.1" x2="1369.9" y2="1230.5" stroke="#111" stroke-width="1.1"/>
<text x="1375" y="1245.2" font-size="18" fill="#000">50</text>
<line x1="1401.5" y1="1190.4" x2="1411.2" y2="1192.8" stroke="#111" stroke-width="1.1"/>
<text x="1416.7" y="1207.5" font-size="18" fill="#000">100</text>
<line x1="1442.8" y1="1152.7" x2="1452.5" y2="1155.1" stroke="#111" stroke-width="1.1"/>
<text x="1458.3" y="1168.9" font-size="18" fill="#000">150</text>
<line x1="1484.1" y1="1115" x2="1493.8" y2="1117.4" stroke="#111" stroke-width="1.1"/>
<text x="1498.9" y="1131.8" font-size="18" fill="#000">200</text>
<text transform="translate(206.2 828.9) scale(1.0244 1)" font-size="23" fill="#000">Concave Obstacle Avoidance of TAPF</text>
<text transform="translate(1001 851.3) scale(1.0038 1)" font-size="22.5" fill="#000">Concave Obstacle Avoidance of PAPF</text>
<text transform="translate(105.7 944.8) scale(1.0430 1)" font-size="18.5" fill="#000">x 10</text>
<text x="143.5" y="926" font-size="13" fill="#000">4</text>
<text transform="translate(910.1 944.1) scale(0.9960 1)" font-size="18.5" fill="#000">x 10</text>
<text x="944.2" y="927.5" font-size="13" fill="#000">4</text>
<text transform="translate(192.2 1290.6) scale(1.0141 1)" font-size="23" fill="#000">X/pixels</text>
<text transform="translate(651.7 1254.5) scale(1.0076 1)" font-size="23" fill="#000">Y/pixels</text>
<text transform="translate(983.5 1273.6) scale(0.9850 1)" font-size="23" fill="#000">X/pixels</text>
<text transform="translate(1451.8 1238.8) scale(0.9647 1)" font-size="23" fill="#000">Y/pixels</text>
<defs><filter id="blur6" x="-50%" y="-50%" width="200%" height="200%"><feGaussianBlur stdDeviation="6"/></filter><filter id="blur3" x="-50%" y="-50%" width="200%" height="200%"><feGaussianBlur stdDeviation="3"/></filter><filter id="blur15" x="-50%" y="-50%" width="200%" height="200%"><feGaussianBlur stdDeviation="1.5"/></filter></defs>
<clipPath id="cc1"><path d="M400.4,963.4 424.1,980 450.6,1001.2 473.5,1020.6 492.9,1038.2 507,1052.3 514.1,1064.7 517.6,1077 519.4,1091.1 519.4,1112 517,1135 508,1175 330,1220 388,1000Z"/></clipPath>
<g clip-path="url(#cc1)">
<g filter="url(#blur6)"><ellipse cx="434" cy="1074" rx="15" ry="40" fill="#0850f0" opacity="0.8"/></g>
<linearGradient id="wg1" gradientUnits="userSpaceOnUse" x1="400" y1="965" x2="520" y2="1110"><stop offset="0" stop-color="#b0f06c"/><stop offset="0.28" stop-color="#6cf0b0"/><stop offset="0.5" stop-color="#3cf0e8"/><stop offset="0.78" stop-color="#34d4ff"/><stop offset="1" stop-color="#2cb8ff"/></linearGradient>
<g filter="url(#blur3)"><path d="M400,955 407.4,956.4 431.1,973 457.6,994.2 480.5,1013.6 499.9,1031.2 514,1045.3 521.1,1057.7 524.6,1070 526.4,1084.1 526.4,1105 527,1114 512,1140 495,1158 470,1165 453,1158 457,1120 464,1084 454,1068 436,1050 416,1030 403,1008 397,990Z" fill="url(#wg1)"/></g>
<g filter="url(#blur15)"><path d="M400,958 407.4,956.4 431.1,973 457.6,994.2 480.5,1013.6 499.9,1031.2 514,1045.3 521.1,1057.7 524.6,1070 526.4,1084.1 526.4,1105 527,1114 505,1135 480,1150 462,1140 466,1100 466,1075 450,1052 426,1025 405,990Z" fill="url(#wg1)" opacity="0.9"/></g>
<g filter="url(#blur15)"><path d="M465,1080 461,1103 457.8,1120.6 454.5,1138 453.4,1152 470,1150 492,1125 498,1095 485,1072Z" fill="#50ecd8"/></g>
<g filter="url(#blur3)"><path d="M462,1092 468,1100 476,1125 470,1145 456,1148 457,1120Z" fill="#a4f07c" opacity="0.9"/></g>
<g filter="url(#blur3)"><path d="M470,1040 490,1065 500,1100 492,1130 478,1110 478,1075Z" fill="#3ef4f0" opacity="0.7"/></g>
</g>
<clipPath id="cc2"><path d="M1193.9,970.5 1216.7,986.2 1242.2,1006.3 1264.3,1024.7 1283,1041.3 1296.6,1054.7 1303.4,1066.4 1306.8,1078.1 1308.5,1091.4 1308.5,1111.2 1306.2,1133 1297.5,1170.9 1126.1,1213.5 1182,1005.1Z"/></clipPath>
<g clip-path="url(#cc2)">
<g filter="url(#blur6)"><ellipse cx="1226.3" cy="1075.2" rx="14.4" ry="37.9" fill="#0850f0" opacity="0.8"/></g>
<linearGradient id="wg2" gradientUnits="userSpaceOnUse" x1="1193.5" y1="972" x2="1309.1" y2="1109.3"><stop offset="0" stop-color="#b0f06c"/><stop offset="0.28" stop-color="#6cf0b0"/><stop offset="0.5" stop-color="#3cf0e8"/><stop offset="0.78" stop-color="#34d4ff"/><stop offset="1" stop-color="#2cb8ff"/></linearGradient>
<g filter="url(#blur3)"><path d="M1193.5,962.5 1200.6,963.9 1223.5,979.6 1249,999.7 1271,1018 1289.7,1034.7 1303.3,1048 1310.1,1059.8 1313.5,1071.4 1315.2,1084.8 1315.2,1104.6 1315.8,1113.1 1301.4,1137.7 1285,1154.8 1260.9,1161.4 1244.6,1154.8 1248.4,1118.8 1255.1,1084.7 1245.5,1069.5 1228.2,1052.5 1208.9,1033.6 1196.4,1012.7 1190.6,995.7Z" fill="url(#wg2)"/></g>
<g filter="url(#blur15)"><path d="M1193.5,965.4 1200.6,963.9 1223.5,979.6 1249,999.7 1271,1018 1289.7,1034.7 1303.3,1048 1310.1,1059.8 1313.5,1071.4 1315.2,1084.8 1315.2,1104.6 1315.8,1113.1 1294.6,1133 1270.6,1147.2 1253.2,1137.7 1257.1,1099.8 1257.1,1076.2 1241.7,1054.4 1218.5,1028.8 1198.3,995.7Z" fill="url(#wg2)" opacity="0.9"/></g>
<g filter="url(#blur15)"><path d="M1256.1,1080.9 1252.3,1102.7 1249.2,1119.4 1246,1135.8 1244.9,1149.1 1260.9,1147.2 1282.1,1123.5 1287.9,1095.1 1275.4,1073.3Z" fill="#50ecd8"/></g>
<g filter="url(#blur3)"><path d="M1253.2,1092.3 1259,1099.8 1266.7,1123.5 1260.9,1142.5 1247.4,1145.3 1248.4,1118.8Z" fill="#a4f07c" opacity="0.9"/></g>
<g filter="url(#blur3)"><path d="M1260.9,1043 1280.2,1066.7 1289.8,1099.8 1282.1,1128.3 1268.6,1109.3 1268.6,1076.2Z" fill="#3ef4f0" opacity="0.7"/></g>
</g>
<path d="M139.6,1025 C146.2,1027.5 163.8,1035 179.2,1040.2 C194.6,1045.4 214.4,1051.2 232,1056 C249.6,1060.8 267.2,1065.2 284.8,1069.2 C302.4,1073.2 320,1076.8 337.6,1079.8 C355.2,1082.8 376.3,1085.3 390.4,1087 C404.5,1088.7 416.8,1089.2 422.1,1089.7" fill="none" stroke="#d81010" stroke-width="2.8" stroke-linecap="round" stroke-linejoin="round"/>
<path d="M420,1089.7 L425,1089 L430,1093" fill="none" stroke="#e01010" stroke-width="2.6"/>
<path d="M943.3,1021.3 C948.1,1023.7 961.4,1030.9 972.2,1035.7 C983,1040.5 996.3,1045 1008.3,1050.2 C1020.3,1055.4 1032.4,1060.6 1044.4,1067 C1056.4,1073.4 1068.5,1081.1 1080.5,1088.7 C1092.5,1096.3 1104.6,1104.7 1116.6,1112.7 C1128.6,1120.7 1140.7,1130 1152.7,1136.8 C1164.7,1143.6 1176.8,1149.3 1188.8,1153.7 C1200.8,1158.1 1214.9,1161.2 1224.9,1163.3 C1234.9,1165.4 1239,1166.2 1249,1166.2 C1259,1166.2 1271.1,1165.4 1285.1,1163.3 C1299.1,1161.2 1317.2,1158.1 1333.2,1153.7 C1349.2,1149.3 1365.4,1143.2 1381.4,1136.8 C1397.5,1130.4 1415.5,1122 1429.5,1115.2 C1443.5,1108.4 1456.4,1100.7 1465.6,1095.9 C1474.8,1091.1 1481.7,1087.9 1484.9,1086.3" fill="none" stroke="#c81e2a" stroke-width="2.6" stroke-linecap="round" stroke-linejoin="round"/>
<path d="M133.3,1012.4 L139.8,1023.4 L128.8,1019.9 Z" fill="none" stroke="#4a20d0" stroke-width="2.2" stroke-linejoin="round"/>
<path d="M937.5,1010.5 L944,1021.5 L933,1018 Z" fill="none" stroke="#4a20d0" stroke-width="2.2" stroke-linejoin="round"/>
<circle cx="704.5" cy="1081.1" r="6.2" fill="none" stroke="#e02040" stroke-width="2"/>
<circle cx="1487.3" cy="1085.8" r="5.6" fill="none" stroke="#d02040" stroke-width="2"/>
<text transform="translate(215.4 959.5) scale(1.0121 1)" font-size="23" fill="#000">start point</text>
<line x1="214.8" y1="965.6" x2="162.3" y2="1001.8" stroke="#000" stroke-width="1.2"/>
<path d="M150.8,1009.8 162.7,991.9 162.3,1001.8 171.8,1005Z" fill="#000" stroke="none" stroke-width="1"/>
<text transform="translate(526.5 916.2) scale(1.0319 1)" font-size="23" fill="#000">crescent shape</text>
<text transform="translate(562.2 943) scale(1.0230 1)" font-size="23" fill="#000">obstacle</text>
<line x1="525.7" y1="948.1" x2="481.2" y2="1018.6" stroke="#000" stroke-width="1.2"/>
<path d="M473.7,1030.4 477.6,1009.2 481.2,1018.6 491.1,1017.8Z" fill="#000" stroke="none" stroke-width="1"/>
<text transform="translate(656.8 1017.4) scale(1.0786 1)" font-size="23" fill="#000">goal</text>
<line x1="679.4" y1="1023.9" x2="695.4" y2="1060.9" stroke="#000" stroke-width="1.2"/>
<path d="M701,1073.7 685.7,1058.5 695.4,1060.9 700.4,1052.2Z" fill="#000" stroke="none" stroke-width="1"/>
<text transform="translate(231.3 1183.1) scale(1.0233 1)" font-size="23" fill="#000">stuck in local</text>
<text transform="translate(251.7 1209.6) scale(1.0317 1)" font-size="23" fill="#000">minimum</text>
<line x1="363.8" y1="1161.2" x2="419.8" y2="1113.1" stroke="#000" stroke-width="1.2"/>
<path d="M430.4,1104 420.4,1123.1 419.8,1113.1 410,1111Z" fill="#000" stroke="none" stroke-width="1"/>
<text transform="translate(998.6 1038) scale(1.0060 1)" font-size="22.5" fill="#000">predictive avoidance</text>
<line x1="1095" y1="1044.2" x2="1117.1" y2="1096.2" stroke="#000" stroke-width="1.2"/>
<path d="M1122.6,1109.1 1107.4,1093.8 1117.1,1096.2 1122.1,1087.6Z" fill="#000" stroke="none" stroke-width="1"/>
<text transform="translate(1592.4 1134.5) scale(0.9420 1)" font-size="74.5" fill="#000" stroke="#fff" stroke-width="1.2">PPF shapes like a half-opened book</text>
<text transform="translate(1593.6 1223) scale(0.9525 1)" font-size="74.5" fill="#000" stroke="#fff" stroke-width="1.2">based on distance to the obstacle</text>
<text transform="translate(1592.4 1310.5) scale(0.8455 1)" font-size="74.5" fill="#000" stroke="#fff" stroke-width="1.2">(</text>
<text transform="translate(1616 1310.5) scale(1.0560 1)" font-size="72" style="font-family:'Liberation Serif',serif" font-style="italic" fill="#000">d</text>
<text transform="translate(1660.3 1310.5) scale(0.8252 1)" font-size="74.5" fill="#000" stroke="#fff" stroke-width="1.2">)</text>
<text transform="translate(1700.9 1310.5) scale(0.9731 1)" font-size="74.5" fill="#000" stroke="#fff" stroke-width="1.2">and turning angle</text>
<text transform="translate(2281.5 1310.5) scale(0.7594 1)" font-size="74.5" fill="#000" stroke="#fff" stroke-width="1.2">(</text>
<text transform="translate(2302.2 1309) scale(0.8816 1)" font-size="68" font-weight="bold" fill="#000" stroke="#fff" stroke-width="1">Δ</text>
<text transform="translate(2346.5 1309.9) scale(1.1443 1)" font-size="68" style="font-family:'Liberation Serif',serif" font-style="italic" fill="#000" stroke="#fff" stroke-width="1.2">θ</text>
<text transform="translate(2382.9 1323.8) scale(1.2070 1)" font-size="52" style="font-family:'Liberation Serif',serif" font-style="italic" fill="#000">v</text>
<text transform="translate(2419.9 1310.5) scale(0.7493 1)" font-size="74.5" fill="#000" stroke="#fff" stroke-width="1.2">)</text>
<text x="2435.2" y="1310.5" font-size="74.5" fill="#000" stroke="#fff" stroke-width="1.2">.</text>
</svg></body></html>
